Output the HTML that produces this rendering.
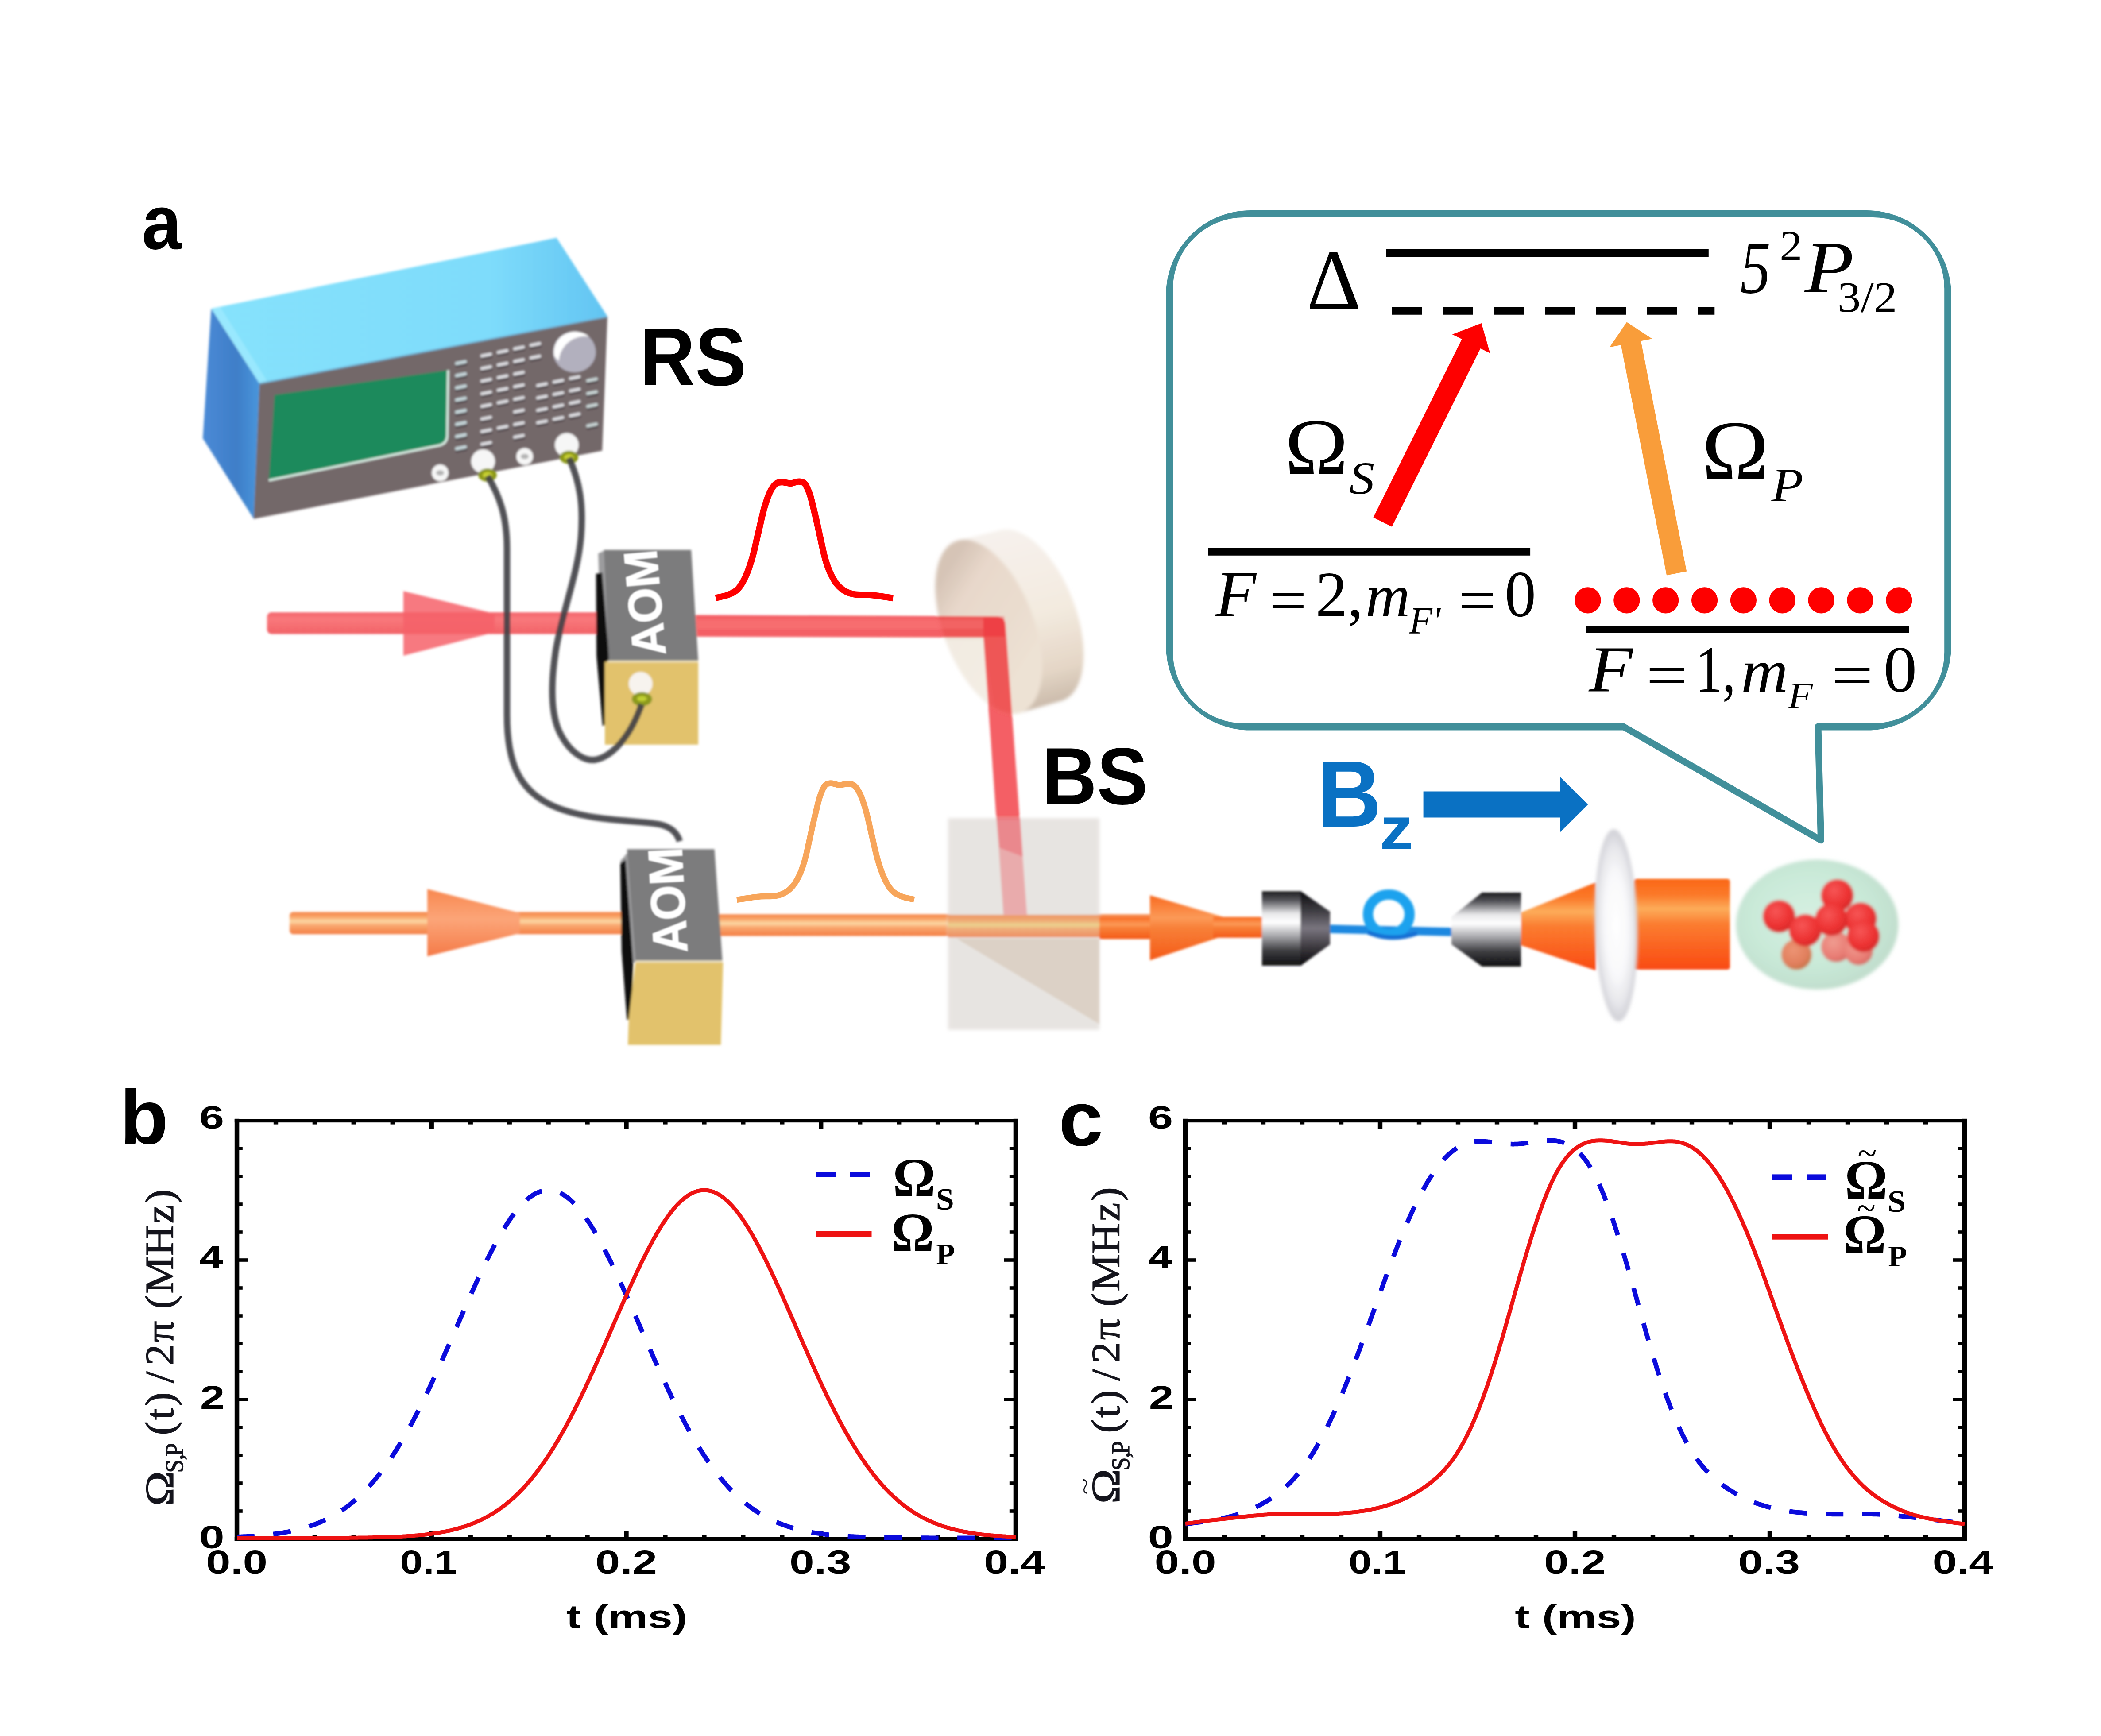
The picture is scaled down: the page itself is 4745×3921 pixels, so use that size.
<!DOCTYPE html>
<html lang="en"><head><meta charset="utf-8"><title>Figure</title>
<style>
html,body{margin:0;padding:0;background:#fff;}
body{width:4745px;height:3921px;overflow:hidden;}
svg{display:block;}
.sb{font-family:"Liberation Sans",sans-serif;font-weight:bold;}
.dj{font-family:"DejaVu Sans",sans-serif;font-weight:bold;}
.se{font-family:"Liberation Serif",serif;}
.si{font-family:"Liberation Serif",serif;font-style:italic;}
.seb{font-family:"Liberation Serif",serif;font-weight:bold;}
</style></head><body>
<svg width="4745" height="3921" viewBox="0 0 4745 3921">
<defs>
<filter id="bl1" x="-5%" y="-5%" width="110%" height="110%"><feGaussianBlur stdDeviation="2.4"/></filter>
<filter id="bl0" x="-5%" y="-5%" width="110%" height="110%"><feGaussianBlur stdDeviation="1.4"/></filter>
<filter id="bl2" x="-5%" y="-5%" width="110%" height="110%"><feGaussianBlur stdDeviation="3"/></filter>
<filter id="bl4" x="-10%" y="-10%" width="120%" height="120%"><feGaussianBlur stdDeviation="5"/></filter>
<linearGradient id="gRed" x1="0" y1="0" x2="0" y2="1">
 <stop offset="0" stop-color="#f2525a"/><stop offset="0.3" stop-color="#f96a6e"/><stop offset="0.55" stop-color="#f66266"/><stop offset="1" stop-color="#f05056"/>
</linearGradient>
<linearGradient id="gRedV" x1="0" y1="0" x2="1" y2="0">
 <stop offset="0" stop-color="#f0525a"/><stop offset="0.4" stop-color="#f8686e"/><stop offset="1" stop-color="#ee5058"/>
</linearGradient>
<linearGradient id="gOr" x1="0" y1="0" x2="0" y2="1">
 <stop offset="0" stop-color="#f58548"/><stop offset="0.22" stop-color="#f9a468"/><stop offset="0.42" stop-color="#fcd8a4"/><stop offset="0.6" stop-color="#f9a870"/><stop offset="1" stop-color="#f47e44"/>
</linearGradient>
<linearGradient id="gOrB" x1="0" y1="0" x2="0" y2="1">
 <stop offset="0" stop-color="#ee8a50"/><stop offset="0.25" stop-color="#f2a060"/><stop offset="0.45" stop-color="#ecd080"/><stop offset="0.62" stop-color="#f2a468"/><stop offset="1" stop-color="#ee7e4c"/>
</linearGradient>
<linearGradient id="gOrCone" x1="0" y1="0" x2="0" y2="1">
 <stop offset="0" stop-color="#f88850"/><stop offset="0.45" stop-color="#fba578"/><stop offset="1" stop-color="#f57a48"/>
</linearGradient>
<linearGradient id="gOr2" x1="0" y1="0" x2="0" y2="1">
 <stop offset="0" stop-color="#f86a20"/><stop offset="0.35" stop-color="#fc9a58"/><stop offset="0.5" stop-color="#f88038"/><stop offset="1" stop-color="#f45a18"/>
</linearGradient>
<linearGradient id="gOrCyl" x1="0" y1="0" x2="0" y2="1">
 <stop offset="0" stop-color="#fa6616"/><stop offset="0.18" stop-color="#fb7a2a"/><stop offset="0.33" stop-color="#fdac5a"/><stop offset="0.5" stop-color="#fb7c30"/><stop offset="1" stop-color="#f94a12"/>
</linearGradient>
<linearGradient id="gMetal" x1="0" y1="0" x2="0" y2="1">
 <stop offset="0" stop-color="#1a1a1c"/><stop offset="0.12" stop-color="#55555a"/><stop offset="0.3" stop-color="#e8e8ea"/><stop offset="0.42" stop-color="#ffffff"/><stop offset="0.6" stop-color="#a8a8ac"/><stop offset="0.8" stop-color="#3c3c40"/><stop offset="1" stop-color="#101012"/>
</linearGradient>
<linearGradient id="gMetalD" x1="0" y1="0" x2="0" y2="1">
 <stop offset="0" stop-color="#0c0c0e"/><stop offset="0.28" stop-color="#3a383e"/><stop offset="0.5" stop-color="#74707a"/><stop offset="0.75" stop-color="#3c383e"/><stop offset="1" stop-color="#0a0a0c"/>
</linearGradient>
<linearGradient id="gTop" x1="0" y1="0" x2="1" y2="0">
 <stop offset="0" stop-color="#86e2fc"/><stop offset="0.7" stop-color="#7edcfb"/><stop offset="1" stop-color="#62c4f2"/>
</linearGradient>
<linearGradient id="gLeft" x1="0" y1="0" x2="1" y2="0">
 <stop offset="0" stop-color="#4a8ad6"/><stop offset="0.6" stop-color="#3f7ec8"/><stop offset="1" stop-color="#4896dc"/>
</linearGradient>
<linearGradient id="gMirF" gradientUnits="userSpaceOnUse" x1="2110" y1="1330" x2="2340" y2="1480">
 <stop offset="0" stop-color="#d6c4b6"/><stop offset="0.25" stop-color="#e8d8cb"/><stop offset="0.7" stop-color="#eaddcf"/><stop offset="1" stop-color="#ede2d4"/>
</linearGradient>
<linearGradient id="gMirR" gradientUnits="userSpaceOnUse" x1="2290" y1="1200" x2="2400" y2="1620">
 <stop offset="0" stop-color="#f6f1ec"/><stop offset="0.45" stop-color="#f3eadf"/><stop offset="0.75" stop-color="#e4d6c6"/><stop offset="1" stop-color="#bfae9e"/>
</linearGradient>
<radialGradient id="gBall" cx="0.4" cy="0.35" r="0.7">
 <stop offset="0" stop-color="#f65656"/><stop offset="0.6" stop-color="#ee3434"/><stop offset="1" stop-color="#d42626"/>
</radialGradient>
<radialGradient id="gBallQ" cx="0.4" cy="0.35" r="0.7">
 <stop offset="0" stop-color="#f09c90"/><stop offset="0.7" stop-color="#e87c74"/><stop offset="1" stop-color="#d46860"/>
</radialGradient>
<radialGradient id="gBallP" cx="0.4" cy="0.35" r="0.7">
 <stop offset="0" stop-color="#ec9474"/><stop offset="0.7" stop-color="#e07e5c"/><stop offset="1" stop-color="#c07040"/>
</radialGradient>
<radialGradient id="gSph" cx="0.45" cy="0.45" r="0.6">
 <stop offset="0" stop-color="#d6f0e2"/><stop offset="0.6" stop-color="#c9e9d8"/><stop offset="1" stop-color="#bfdccb"/>
</radialGradient>
<radialGradient id="gLens" cx="0.5" cy="0.5" r="0.5">
 <stop offset="0" stop-color="#ffffff"/><stop offset="0.55" stop-color="#f8f8fa"/><stop offset="0.82" stop-color="#e6e6ea"/><stop offset="1" stop-color="#d0d0d6"/>
</radialGradient>
<radialGradient id="gKnob" cx="0.35" cy="0.3" r="0.8">
 <stop offset="0" stop-color="#ffffff"/><stop offset="0.35" stop-color="#c8c8d4"/><stop offset="1" stop-color="#a0a0b0"/>
</radialGradient>
</defs>
<rect x="0" y="0" width="4745" height="3921" fill="#ffffff"/>
<g id="illus" filter="url(#bl1)">
<polygon points="477.0,697.0 1257.0,537.0 1372.0,715.0 586.0,866.0" fill="url(#gTop)" />
<polygon points="477.0,697.0 586.0,866.0 573.0,1172.0 458.0,990.0" fill="url(#gLeft)" />
<polygon points="586.0,866.0 1372.0,715.0 1360.0,1018.0 573.0,1172.0" fill="#736769" />
<polygon points="477.0,697.0 497.0,693.0 604.0,862.0 586.0,866.0" fill="#9eeafe" opacity="0.8"/>
<line x1="586" y1="866" x2="1372" y2="715" stroke="#6fb8e0" stroke-width="5" opacity="0.6"/>
<path d="M620,892 L1012,836 L1010,985 Q1009,1002 992,1006 L607,1085 Z" fill="#1c8a5c"/>
<path d="M607,1085 L992,1006 Q1009,1002 1010,985 L1012,836" fill="none" stroke="#dcefe6" stroke-width="5"/>
<line x1="1032.5" y1="825.9" x2="1051.5" y2="822.1" stroke="#4e4448" stroke-width="8" stroke-linecap="round"/>
<line x1="1031.5" y1="820.9" x2="1050.5" y2="817.1" stroke="#c4d4d8" stroke-width="8" stroke-linecap="round"/>
<line x1="1032.5" y1="853.4" x2="1051.5" y2="849.6" stroke="#4e4448" stroke-width="8" stroke-linecap="round"/>
<line x1="1031.5" y1="848.4" x2="1050.5" y2="844.6" stroke="#c4d4d8" stroke-width="8" stroke-linecap="round"/>
<line x1="1032.5" y1="880.9" x2="1051.5" y2="877.1" stroke="#4e4448" stroke-width="8" stroke-linecap="round"/>
<line x1="1031.5" y1="875.9" x2="1050.5" y2="872.1" stroke="#c4d4d8" stroke-width="8" stroke-linecap="round"/>
<line x1="1032.5" y1="908.4" x2="1051.5" y2="904.6" stroke="#4e4448" stroke-width="8" stroke-linecap="round"/>
<line x1="1031.5" y1="903.4" x2="1050.5" y2="899.6" stroke="#c4d4d8" stroke-width="8" stroke-linecap="round"/>
<line x1="1032.5" y1="935.9" x2="1051.5" y2="932.1" stroke="#4e4448" stroke-width="8" stroke-linecap="round"/>
<line x1="1031.5" y1="930.9" x2="1050.5" y2="927.1" stroke="#c4d4d8" stroke-width="8" stroke-linecap="round"/>
<line x1="1032.5" y1="963.4" x2="1051.5" y2="959.6" stroke="#4e4448" stroke-width="8" stroke-linecap="round"/>
<line x1="1031.5" y1="958.4" x2="1050.5" y2="954.6" stroke="#c4d4d8" stroke-width="8" stroke-linecap="round"/>
<line x1="1032.5" y1="990.9" x2="1051.5" y2="987.1" stroke="#4e4448" stroke-width="8" stroke-linecap="round"/>
<line x1="1031.5" y1="985.9" x2="1050.5" y2="982.1" stroke="#c4d4d8" stroke-width="8" stroke-linecap="round"/>
<line x1="1032.5" y1="1018.4" x2="1051.5" y2="1014.6" stroke="#4e4448" stroke-width="8" stroke-linecap="round"/>
<line x1="1031.5" y1="1013.4" x2="1050.5" y2="1009.6" stroke="#c4d4d8" stroke-width="8" stroke-linecap="round"/>
<line x1="1089.5" y1="808.9" x2="1108.5" y2="805.1" stroke="#4e4448" stroke-width="7.5" stroke-linecap="round"/>
<line x1="1088.5" y1="803.9" x2="1107.5" y2="800.1" stroke="#dcdce0" stroke-width="7.5" stroke-linecap="round"/>
<line x1="1126.5" y1="800.9" x2="1145.5" y2="797.1" stroke="#4e4448" stroke-width="7.5" stroke-linecap="round"/>
<line x1="1125.5" y1="795.9" x2="1144.5" y2="792.1" stroke="#dcdce0" stroke-width="7.5" stroke-linecap="round"/>
<line x1="1163.5" y1="792.9" x2="1182.5" y2="789.1" stroke="#4e4448" stroke-width="7.5" stroke-linecap="round"/>
<line x1="1162.5" y1="787.9" x2="1181.5" y2="784.1" stroke="#dcdce0" stroke-width="7.5" stroke-linecap="round"/>
<line x1="1200.5" y1="784.9" x2="1219.5" y2="781.1" stroke="#4e4448" stroke-width="7.5" stroke-linecap="round"/>
<line x1="1199.5" y1="779.9" x2="1218.5" y2="776.1" stroke="#dcdce0" stroke-width="7.5" stroke-linecap="round"/>
<line x1="1089.5" y1="837.4" x2="1108.5" y2="833.6" stroke="#4e4448" stroke-width="7.5" stroke-linecap="round"/>
<line x1="1088.5" y1="832.4" x2="1107.5" y2="828.6" stroke="#dcdce0" stroke-width="7.5" stroke-linecap="round"/>
<line x1="1126.5" y1="829.4" x2="1145.5" y2="825.6" stroke="#4e4448" stroke-width="7.5" stroke-linecap="round"/>
<line x1="1125.5" y1="824.4" x2="1144.5" y2="820.6" stroke="#dcdce0" stroke-width="7.5" stroke-linecap="round"/>
<line x1="1163.5" y1="821.4" x2="1182.5" y2="817.6" stroke="#4e4448" stroke-width="7.5" stroke-linecap="round"/>
<line x1="1162.5" y1="816.4" x2="1181.5" y2="812.6" stroke="#dcdce0" stroke-width="7.5" stroke-linecap="round"/>
<line x1="1200.5" y1="813.4" x2="1219.5" y2="809.6" stroke="#4e4448" stroke-width="7.5" stroke-linecap="round"/>
<line x1="1199.5" y1="808.4" x2="1218.5" y2="804.6" stroke="#dcdce0" stroke-width="7.5" stroke-linecap="round"/>
<line x1="1089.5" y1="865.9" x2="1108.5" y2="862.1" stroke="#4e4448" stroke-width="7.5" stroke-linecap="round"/>
<line x1="1088.5" y1="860.9" x2="1107.5" y2="857.1" stroke="#dcdce0" stroke-width="7.5" stroke-linecap="round"/>
<line x1="1126.5" y1="857.9" x2="1145.5" y2="854.1" stroke="#4e4448" stroke-width="7.5" stroke-linecap="round"/>
<line x1="1125.5" y1="852.9" x2="1144.5" y2="849.1" stroke="#dcdce0" stroke-width="7.5" stroke-linecap="round"/>
<line x1="1163.5" y1="849.9" x2="1182.5" y2="846.1" stroke="#4e4448" stroke-width="7.5" stroke-linecap="round"/>
<line x1="1162.5" y1="844.9" x2="1181.5" y2="841.1" stroke="#dcdce0" stroke-width="7.5" stroke-linecap="round"/>
<line x1="1089.5" y1="894.4" x2="1108.5" y2="890.6" stroke="#4e4448" stroke-width="7.5" stroke-linecap="round"/>
<line x1="1088.5" y1="889.4" x2="1107.5" y2="885.6" stroke="#dcdce0" stroke-width="7.5" stroke-linecap="round"/>
<line x1="1126.5" y1="886.4" x2="1145.5" y2="882.6" stroke="#4e4448" stroke-width="7.5" stroke-linecap="round"/>
<line x1="1125.5" y1="881.4" x2="1144.5" y2="877.6" stroke="#dcdce0" stroke-width="7.5" stroke-linecap="round"/>
<line x1="1163.5" y1="878.4" x2="1182.5" y2="874.6" stroke="#4e4448" stroke-width="7.5" stroke-linecap="round"/>
<line x1="1162.5" y1="873.4" x2="1181.5" y2="869.6" stroke="#dcdce0" stroke-width="7.5" stroke-linecap="round"/>
<line x1="1089.5" y1="922.9" x2="1108.5" y2="919.1" stroke="#4e4448" stroke-width="7.5" stroke-linecap="round"/>
<line x1="1088.5" y1="917.9" x2="1107.5" y2="914.1" stroke="#dcdce0" stroke-width="7.5" stroke-linecap="round"/>
<line x1="1126.5" y1="914.9" x2="1145.5" y2="911.1" stroke="#4e4448" stroke-width="7.5" stroke-linecap="round"/>
<line x1="1125.5" y1="909.9" x2="1144.5" y2="906.1" stroke="#dcdce0" stroke-width="7.5" stroke-linecap="round"/>
<line x1="1163.5" y1="906.9" x2="1182.5" y2="903.1" stroke="#4e4448" stroke-width="7.5" stroke-linecap="round"/>
<line x1="1162.5" y1="901.9" x2="1181.5" y2="898.1" stroke="#dcdce0" stroke-width="7.5" stroke-linecap="round"/>
<line x1="1089.5" y1="951.4" x2="1108.5" y2="947.6" stroke="#4e4448" stroke-width="7.5" stroke-linecap="round"/>
<line x1="1088.5" y1="946.4" x2="1107.5" y2="942.6" stroke="#dcdce0" stroke-width="7.5" stroke-linecap="round"/>
<line x1="1163.5" y1="935.4" x2="1182.5" y2="931.6" stroke="#4e4448" stroke-width="7.5" stroke-linecap="round"/>
<line x1="1162.5" y1="930.4" x2="1181.5" y2="926.6" stroke="#dcdce0" stroke-width="7.5" stroke-linecap="round"/>
<line x1="1089.5" y1="979.9" x2="1108.5" y2="976.1" stroke="#4e4448" stroke-width="7.5" stroke-linecap="round"/>
<line x1="1088.5" y1="974.9" x2="1107.5" y2="971.1" stroke="#dcdce0" stroke-width="7.5" stroke-linecap="round"/>
<line x1="1126.5" y1="971.9" x2="1145.5" y2="968.1" stroke="#4e4448" stroke-width="7.5" stroke-linecap="round"/>
<line x1="1125.5" y1="966.9" x2="1144.5" y2="963.1" stroke="#dcdce0" stroke-width="7.5" stroke-linecap="round"/>
<line x1="1163.5" y1="963.9" x2="1182.5" y2="960.1" stroke="#4e4448" stroke-width="7.5" stroke-linecap="round"/>
<line x1="1162.5" y1="958.9" x2="1181.5" y2="955.1" stroke="#dcdce0" stroke-width="7.5" stroke-linecap="round"/>
<line x1="1089.5" y1="1008.4" x2="1108.5" y2="1004.6" stroke="#4e4448" stroke-width="7.5" stroke-linecap="round"/>
<line x1="1088.5" y1="1003.4" x2="1107.5" y2="999.6" stroke="#dcdce0" stroke-width="7.5" stroke-linecap="round"/>
<line x1="1163.5" y1="992.4" x2="1182.5" y2="988.6" stroke="#4e4448" stroke-width="7.5" stroke-linecap="round"/>
<line x1="1162.5" y1="987.4" x2="1181.5" y2="983.6" stroke="#dcdce0" stroke-width="7.5" stroke-linecap="round"/>
<line x1="1215.5" y1="875.9" x2="1234.5" y2="872.1" stroke="#4e4448" stroke-width="7.5" stroke-linecap="round"/>
<line x1="1214.5" y1="870.9" x2="1233.5" y2="867.1" stroke="#dcdce0" stroke-width="7.5" stroke-linecap="round"/>
<line x1="1252.5" y1="867.9" x2="1271.5" y2="864.1" stroke="#4e4448" stroke-width="7.5" stroke-linecap="round"/>
<line x1="1251.5" y1="862.9" x2="1270.5" y2="859.1" stroke="#dcdce0" stroke-width="7.5" stroke-linecap="round"/>
<line x1="1289.5" y1="859.9" x2="1308.5" y2="856.1" stroke="#4e4448" stroke-width="7.5" stroke-linecap="round"/>
<line x1="1288.5" y1="854.9" x2="1307.5" y2="851.1" stroke="#dcdce0" stroke-width="7.5" stroke-linecap="round"/>
<line x1="1215.5" y1="903.9" x2="1234.5" y2="900.1" stroke="#4e4448" stroke-width="7.5" stroke-linecap="round"/>
<line x1="1214.5" y1="898.9" x2="1233.5" y2="895.1" stroke="#dcdce0" stroke-width="7.5" stroke-linecap="round"/>
<line x1="1252.5" y1="895.9" x2="1271.5" y2="892.1" stroke="#4e4448" stroke-width="7.5" stroke-linecap="round"/>
<line x1="1251.5" y1="890.9" x2="1270.5" y2="887.1" stroke="#dcdce0" stroke-width="7.5" stroke-linecap="round"/>
<line x1="1289.5" y1="887.9" x2="1308.5" y2="884.1" stroke="#4e4448" stroke-width="7.5" stroke-linecap="round"/>
<line x1="1288.5" y1="882.9" x2="1307.5" y2="879.1" stroke="#dcdce0" stroke-width="7.5" stroke-linecap="round"/>
<line x1="1215.5" y1="931.9" x2="1234.5" y2="928.1" stroke="#4e4448" stroke-width="7.5" stroke-linecap="round"/>
<line x1="1214.5" y1="926.9" x2="1233.5" y2="923.1" stroke="#dcdce0" stroke-width="7.5" stroke-linecap="round"/>
<line x1="1252.5" y1="923.9" x2="1271.5" y2="920.1" stroke="#4e4448" stroke-width="7.5" stroke-linecap="round"/>
<line x1="1251.5" y1="918.9" x2="1270.5" y2="915.1" stroke="#dcdce0" stroke-width="7.5" stroke-linecap="round"/>
<line x1="1289.5" y1="915.9" x2="1308.5" y2="912.1" stroke="#4e4448" stroke-width="7.5" stroke-linecap="round"/>
<line x1="1288.5" y1="910.9" x2="1307.5" y2="907.1" stroke="#dcdce0" stroke-width="7.5" stroke-linecap="round"/>
<line x1="1215.5" y1="959.9" x2="1234.5" y2="956.1" stroke="#4e4448" stroke-width="7.5" stroke-linecap="round"/>
<line x1="1214.5" y1="954.9" x2="1233.5" y2="951.1" stroke="#dcdce0" stroke-width="7.5" stroke-linecap="round"/>
<line x1="1252.5" y1="951.9" x2="1271.5" y2="948.1" stroke="#4e4448" stroke-width="7.5" stroke-linecap="round"/>
<line x1="1251.5" y1="946.9" x2="1270.5" y2="943.1" stroke="#dcdce0" stroke-width="7.5" stroke-linecap="round"/>
<line x1="1289.5" y1="943.9" x2="1308.5" y2="940.1" stroke="#4e4448" stroke-width="7.5" stroke-linecap="round"/>
<line x1="1288.5" y1="938.9" x2="1307.5" y2="935.1" stroke="#dcdce0" stroke-width="7.5" stroke-linecap="round"/>
<line x1="1328.5" y1="864.9" x2="1347.5" y2="861.1" stroke="#4e4448" stroke-width="7.5" stroke-linecap="round"/>
<line x1="1327.5" y1="859.9" x2="1346.5" y2="856.1" stroke="#c8d4d4" stroke-width="7.5" stroke-linecap="round"/>
<line x1="1328.5" y1="893.9" x2="1347.5" y2="890.1" stroke="#4e4448" stroke-width="7.5" stroke-linecap="round"/>
<line x1="1327.5" y1="888.9" x2="1346.5" y2="885.1" stroke="#c8d4d4" stroke-width="7.5" stroke-linecap="round"/>
<line x1="1328.5" y1="922.9" x2="1347.5" y2="919.1" stroke="#4e4448" stroke-width="7.5" stroke-linecap="round"/>
<line x1="1327.5" y1="917.9" x2="1346.5" y2="914.1" stroke="#c8d4d4" stroke-width="7.5" stroke-linecap="round"/>
<line x1="1328.5" y1="966.9" x2="1347.5" y2="963.1" stroke="#4e4448" stroke-width="7.5" stroke-linecap="round"/>
<line x1="1327.5" y1="961.9" x2="1346.5" y2="958.1" stroke="#c8d4d4" stroke-width="7.5" stroke-linecap="round"/>
<ellipse cx="1297.5" cy="795" rx="48" ry="46" fill="#b2b0be"/>
<path d="M1252,805 A48,46 0 0 1 1330,760 A60,60 0 0 0 1262,815 Z" fill="#ffffff"/>
<circle cx="994" cy="1068" r="19" fill="#f6f6f6"/>
<circle cx="1091" cy="1042" r="27" fill="#f6f6f6"/>
<circle cx="1185" cy="1031" r="19" fill="#f6f6f6"/>
<circle cx="1280" cy="1005" r="27" fill="#f6f6f6"/>
<ellipse cx="994" cy="1068" rx="9" ry="6" fill="#b4b4b4"/>
<ellipse cx="1185" cy="1031" rx="9" ry="6" fill="#b4b4b4"/>
<ellipse cx="1101" cy="1073" rx="21" ry="15" fill="#8c9818"/>
<ellipse cx="1101" cy="1073" rx="11" ry="7" fill="#c8d030"/>
<ellipse cx="1285" cy="1033" rx="21" ry="15" fill="#8c9818"/>
<ellipse cx="1285" cy="1033" rx="11" ry="7" fill="#c8d030"/>
<g filter="url(#bl2)">
<polygon points="2397.1,1583.1 2303.8,1610.0 2296.8,1611.6 2289.5,1612.3 2281.9,1612.0 2274.1,1610.7 2266.1,1608.5 2257.9,1605.3 2249.6,1601.2 2241.3,1596.3 2232.8,1590.4 2224.4,1583.7 2216.0,1576.1 2207.7,1567.8 2199.6,1558.8 2191.6,1549.0 2183.7,1538.6 2176.2,1527.6 2168.9,1516.0 2161.9,1504.0 2155.3,1491.5 2149.0,1478.7 2143.2,1465.5 2137.8,1452.2 2132.8,1438.6 2128.4,1424.9 2124.4,1411.2 2121.0,1397.5 2118.1,1383.9 2115.8,1370.4 2114.1,1357.1 2112.9,1344.2 2112.4,1331.6 2112.4,1319.4 2113.0,1307.7 2114.2,1296.4 2115.9,1285.8 2118.3,1275.8 2121.1,1266.5 2124.6,1257.9 2128.5,1250.1 2133.0,1243.1 2138.0,1236.9 2143.4,1231.6 2149.3,1227.2 2155.5,1223.7 2162.2,1221.2 2256.9,1198.1 2263.9,1196.5 2271.2,1195.8 2278.8,1196.1 2286.6,1197.3 2294.6,1199.5 2302.7,1202.6 2311.0,1206.6 2319.4,1211.5 2327.8,1217.3 2336.1,1224.0 2344.5,1231.4 2352.7,1239.6 2360.9,1248.6 2368.8,1258.2 2376.6,1268.5 2384.1,1279.4 2391.4,1290.8 2398.3,1302.7 2404.9,1315.1 2411.1,1327.8 2416.9,1340.8 2422.2,1354.0 2427.1,1367.5 2431.5,1381.0 2435.4,1394.6 2438.8,1408.2 2441.6,1421.7 2443.9,1435.0 2445.6,1448.1 2446.7,1461.0 2447.2,1473.5 2447.2,1485.6 2446.5,1497.2 2445.3,1508.3 2443.5,1518.9 2441.1,1528.8 2438.2,1538.0 2434.8,1546.5 2430.8,1554.3 2426.3,1561.3 2421.3,1567.4 2415.9,1572.7 2410.0,1577.0 2403.7,1580.5" fill="url(#gMirR)"/>
<polygon points="2328.2,1379.0 2333.2,1392.6 2337.6,1406.3 2341.6,1420.0 2345.0,1433.7 2347.9,1447.3 2350.2,1460.8 2351.9,1474.1 2353.1,1487.0 2353.6,1499.6 2353.6,1511.8 2353.0,1523.5 2351.8,1534.8 2350.1,1545.4 2347.7,1555.4 2344.9,1564.7 2341.4,1573.3 2337.5,1581.1 2333.0,1588.1 2328.0,1594.3 2322.6,1599.6 2316.7,1604.0 2310.5,1607.5 2303.8,1610.0 2296.8,1611.6 2289.5,1612.3 2281.9,1612.0 2274.1,1610.7 2266.1,1608.5 2257.9,1605.3 2249.6,1601.2 2241.3,1596.3 2232.8,1590.4 2224.4,1583.7 2216.0,1576.1 2207.7,1567.8 2199.6,1558.8 2191.6,1549.0 2183.7,1538.6 2176.2,1527.6 2168.9,1516.0 2161.9,1504.0 2155.3,1491.5 2149.0,1478.7 2143.2,1465.5 2137.8,1452.2 2132.8,1438.6 2128.4,1424.9 2124.4,1411.2 2121.0,1397.5 2118.1,1383.9 2115.8,1370.4 2114.1,1357.1 2112.9,1344.2 2112.4,1331.6 2112.4,1319.4 2113.0,1307.7 2114.2,1296.4 2115.9,1285.8 2118.3,1275.8 2121.1,1266.5 2124.6,1257.9 2128.5,1250.1 2133.0,1243.1 2138.0,1236.9 2143.4,1231.6 2149.3,1227.2 2155.5,1223.7 2162.2,1221.2 2169.2,1219.6 2176.5,1218.9 2184.1,1219.2 2191.9,1220.5 2199.9,1222.7 2208.1,1225.9 2216.4,1230.0 2224.7,1234.9 2233.2,1240.8 2241.6,1247.5 2250.0,1255.1 2258.3,1263.4 2266.4,1272.4 2274.4,1282.2 2282.3,1292.6 2289.8,1303.6 2297.1,1315.2 2304.1,1327.2 2310.7,1339.7 2317.0,1352.5 2322.8,1365.7" fill="url(#gMirF)"/>
<clipPath id="cmf"><polygon points="2328.2,1379.0 2333.2,1392.6 2337.6,1406.3 2341.6,1420.0 2345.0,1433.7 2347.9,1447.3 2350.2,1460.8 2351.9,1474.1 2353.1,1487.0 2353.6,1499.6 2353.6,1511.8 2353.0,1523.5 2351.8,1534.8 2350.1,1545.4 2347.7,1555.4 2344.9,1564.7 2341.4,1573.3 2337.5,1581.1 2333.0,1588.1 2328.0,1594.3 2322.6,1599.6 2316.7,1604.0 2310.5,1607.5 2303.8,1610.0 2296.8,1611.6 2289.5,1612.3 2281.9,1612.0 2274.1,1610.7 2266.1,1608.5 2257.9,1605.3 2249.6,1601.2 2241.3,1596.3 2232.8,1590.4 2224.4,1583.7 2216.0,1576.1 2207.7,1567.8 2199.6,1558.8 2191.6,1549.0 2183.7,1538.6 2176.2,1527.6 2168.9,1516.0 2161.9,1504.0 2155.3,1491.5 2149.0,1478.7 2143.2,1465.5 2137.8,1452.2 2132.8,1438.6 2128.4,1424.9 2124.4,1411.2 2121.0,1397.5 2118.1,1383.9 2115.8,1370.4 2114.1,1357.1 2112.9,1344.2 2112.4,1331.6 2112.4,1319.4 2113.0,1307.7 2114.2,1296.4 2115.9,1285.8 2118.3,1275.8 2121.1,1266.5 2124.6,1257.9 2128.5,1250.1 2133.0,1243.1 2138.0,1236.9 2143.4,1231.6 2149.3,1227.2 2155.5,1223.7 2162.2,1221.2 2169.2,1219.6 2176.5,1218.9 2184.1,1219.2 2191.9,1220.5 2199.9,1222.7 2208.1,1225.9 2216.4,1230.0 2224.7,1234.9 2233.2,1240.8 2241.6,1247.5 2250.0,1255.1 2258.3,1263.4 2266.4,1272.4 2274.4,1282.2 2282.3,1292.6 2289.8,1303.6 2297.1,1315.2 2304.1,1327.2 2310.7,1339.7 2317.0,1352.5 2322.8,1365.7"/></clipPath>
<polygon points="2100,1442 2222,1442 2250,1640 2100,1640" fill="#f8f6f0" opacity="0.6" clip-path="url(#cmf)"/>
</g>
<rect x="603" y="1383" width="760" height="49" rx="10" fill="url(#gRed)" opacity="0.9"/>
<polygon points="911.0,1335.0 1117.0,1386.0 1117.0,1428.0 911.0,1481.0" fill="#f6626a" opacity="0.85"/>
<path d="M1570,1389 L2250,1392 Q2270,1393 2271,1412 L2322,2112 L2269,2112 L2221,1440 L1570,1438 Z" fill="#f01c22" opacity="0.7"/>
<rect x="1570" y="1400" width="650" height="20" fill="#ff9090" opacity="0.25"/>
<polygon points="2221.0,1392.0 2268.0,1392.0 2270.0,1438.0 2221.0,1438.0" fill="#f01020" opacity="0.3"/>
<rect x="654" y="2060" width="770" height="50" rx="8" fill="url(#gOr)"/>
<polygon points="965.0,2008.0 1174.0,2062.0 1174.0,2108.0 965.0,2160.0" fill="url(#gOrCone)" />
<rect x="1620" y="2065" width="1000" height="49" fill="url(#gOr)"/>
<rect x="2141" y="1848" width="342" height="478" fill="#e2deda" opacity="0.8" filter="url(#bl2)"/>
<polygon points="2160.6,2120.0 2483.0,2120.0 2483.0,2313.0" fill="#d6c6b6" opacity="0.62"/>
<polygon points="2251.0,1848.0 2304.0,1848.0 2310.0,1935.0 2257.0,1915.0" fill="#f04050" opacity="0.45"/>
<polygon points="2257.0,1915.0 2310.0,1935.0 2320.0,2068.0 2267.0,2068.0" fill="#f47078" opacity="0.28"/>
<rect x="2141" y="2067" width="342" height="50" fill="url(#gOrB)" opacity="0.8"/>
<rect x="2483" y="2071" width="120" height="50" fill="url(#gOr2)"/>
<polygon points="1351.0,1250.0 1366.0,1243.0 1377.0,1495.0 1366.0,1500.0 1358.0,1470.0" fill="#9c9c9e" />
<polygon points="1346.0,1296.0 1360.0,1293.0 1377.0,1500.0 1372.0,1634.0 1361.0,1640.0 1347.0,1480.0" fill="#0a0a0a" />
<polygon points="1364.0,1242.0 1561.0,1242.0 1577.0,1492.0 1375.0,1492.0" fill="#7b7b7d" />
<polygon points="1366.0,1495.0 1577.0,1495.0 1577.0,1682.0 1366.0,1682.0" fill="#e2c26c" />
<line x1="1372" y1="1494" x2="1577" y2="1494" stroke="#efe3c0" stroke-width="4"/>
<circle cx="1446.8" cy="1544.4" r="27" fill="#f7f3ee"/>
<ellipse cx="1449.7" cy="1579" rx="23" ry="16" fill="#8c9a1a"/>
<ellipse cx="1449.7" cy="1578" rx="11" ry="6" fill="#c0d030"/>
<polygon points="1401.0,1945.0 1418.0,1925.0 1436.0,2172.0 1420.0,2180.0 1408.0,2150.0" fill="#9c9c9e" />
<polygon points="1401.0,1950.0 1413.0,1942.0 1430.0,2175.0 1426.0,2300.0 1416.0,2304.0 1404.0,2150.0" fill="#0a0a0a" />
<polygon points="1416.0,1918.0 1613.6,1918.0 1631.5,2169.5 1435.4,2169.5" fill="#7b7b7d" />
<polygon points="1435.0,2174.0 1633.0,2174.0 1628.0,2360.0 1418.0,2360.0 1420.0,2300.0" fill="#e2c26c" />
<line x1="1436" y1="2172" x2="1632" y2="2172" stroke="#efe3c0" stroke-width="4"/>
<path d="M1101,1075 C1128,1120 1145,1165 1145,1240 L1145,1614 C1145,1720 1170,1790 1260,1825 C1340,1856 1440,1852 1490,1862 C1515,1868 1529,1880 1535,1900" fill="none" stroke="#424246" stroke-width="14.5" opacity="0.92"/>
<path d="M1285,1034 C1310,1090 1318,1140 1312,1214 C1304,1300 1270,1380 1255,1470 C1243,1550 1245,1610 1262,1650 C1285,1700 1320,1720 1345,1716 C1385,1708 1425,1660 1449,1591" fill="none" stroke="#424246" stroke-width="14.5" opacity="0.92"/>
</g>
<g filter="url(#bl0)">
<text transform="translate(1503.7,1478.0) rotate(-95.2) scale(0.9644,1)" font-size="106.7" style="font-family:'Liberation Sans',sans-serif;font-weight:bold;font-kerning:none" fill="#ffffff" stroke="#ffffff" stroke-width="1.8">AOM</text>
<text transform="translate(1552.0,2150.5) rotate(-93.0) scale(0.9386,1)" font-size="108.9" style="font-family:'Liberation Sans',sans-serif;font-weight:bold;font-kerning:none" fill="#ffffff" stroke="#ffffff" stroke-width="1.8">AOM</text>
</g>
<g filter="url(#bl1)">
<polygon points="2597.0,2022.0 2766.0,2072.0 2766.0,2113.0 2597.0,2169.0" fill="url(#gOr2)" />
<rect x="2740" y="2071" width="112" height="47" fill="url(#gOr2)"/>
<path d="M3000,2098 L3284,2105" fill="none" stroke="#1a88e0" stroke-width="19"/>
<ellipse cx="3136.5" cy="2065" rx="47" ry="44.5" fill="none" stroke="#1aa2ee" stroke-width="23"/>
<path d="M3090,2106 Q3142,2128 3200,2108" fill="none" stroke="#1670d4" stroke-width="10"/>
<path d="M2850,2013 L2938,2013 L3004,2059 L3004,2133 L2938,2181 L2850,2181 Z" fill="url(#gMetal)"/>
<path d="M2937,2013 L3004,2059 L3004,2133 L2937,2181 Z" fill="url(#gMetalD)" opacity="0.95"/>
<path d="M3435,2016 L3347,2016 L3278,2071 L3278,2133 L3347,2183 L3435,2183 Z" fill="url(#gMetal)"/>
<polygon points="3435.0,2061.0 3604.0,1993.0 3604.0,2192.0 3435.0,2135.0" fill="url(#gOrCyl)" />
<rect x="3690" y="1985" width="217" height="205" rx="6" fill="url(#gOrCyl)"/>
<ellipse cx="3650" cy="2090" rx="48" ry="217" fill="url(#gLens)" filter="url(#bl2)" transform="rotate(-1.5 3650 2090)"/>
<ellipse cx="4104" cy="2088.3" rx="183.4" ry="146.7" fill="url(#gSph)" filter="url(#bl2)"/>
<g filter="url(#bl1)">
<circle cx="4057.3" cy="2156.0" r="34.0" fill="url(#gBallP)"/>
<circle cx="4147.0" cy="2138.6" r="34.0" fill="url(#gBallQ)"/>
<circle cx="4197.5" cy="2147.4" r="32.0" fill="url(#gBallQ)"/>
<circle cx="4149.3" cy="2022.6" r="36.0" fill="url(#gBall)"/>
<circle cx="4017.9" cy="2069.7" r="36.0" fill="url(#gBall)"/>
<circle cx="4201.8" cy="2075.0" r="36.0" fill="url(#gBall)"/>
<circle cx="4208.4" cy="2114.6" r="36.0" fill="url(#gBall)"/>
<circle cx="4077.0" cy="2101.4" r="36.0" fill="url(#gBall)"/>
<circle cx="4136.2" cy="2077.3" r="36.5" fill="url(#gBall)"/>
</g>
</g>
<path d="M1616.3,1350.6 C1621.0,1349.4 1636.3,1346.8 1644.7,1343.4 C1653.1,1340.0 1660.0,1337.1 1666.6,1330.2 C1673.2,1323.3 1678.6,1313.8 1684.1,1301.8 C1689.6,1289.8 1694.8,1274.4 1699.5,1258.0 C1704.2,1241.6 1708.2,1221.5 1712.6,1203.3 C1717.0,1185.0 1721.3,1163.8 1725.7,1148.5 C1730.1,1133.2 1734.5,1120.6 1738.9,1111.3 C1743.3,1102.0 1747.6,1096.4 1752.0,1092.7 C1756.4,1089.0 1761.2,1089.4 1765.2,1089.0 C1769.2,1088.6 1772.6,1090.0 1776.1,1090.5 C1779.6,1091.0 1782.7,1092.2 1786.0,1092.0 C1789.3,1091.8 1792.5,1090.1 1795.8,1089.4 C1799.1,1088.7 1802.0,1087.2 1805.7,1087.7 C1809.4,1088.2 1813.9,1088.0 1817.7,1092.7 C1821.5,1097.4 1825.3,1106.4 1828.6,1115.7 C1831.9,1125.0 1834.5,1136.8 1837.4,1148.5 C1840.3,1160.2 1843.3,1172.9 1846.2,1185.7 C1849.1,1198.5 1852.0,1212.4 1854.9,1225.2 C1857.8,1238.0 1860.4,1251.1 1863.7,1262.4 C1867.0,1273.7 1870.2,1283.5 1874.6,1293.0 C1879.0,1302.5 1884.5,1312.4 1890.0,1319.3 C1895.5,1326.2 1900.9,1330.8 1907.5,1334.6 C1914.1,1338.4 1920.3,1340.8 1929.4,1342.3 C1938.5,1343.8 1953.1,1342.8 1962.2,1343.4 C1971.3,1344.0 1975.0,1344.7 1984.1,1346.0 C1993.2,1347.3 2011.4,1350.2 2016.9,1351.0" fill="none" stroke="#fe0000" stroke-width="14.5" stroke-linejoin="round"/>
<path d="M1664.1,2032.3 C1669.6,2031.5 1687.8,2028.6 1696.9,2027.3 C1706.0,2026.0 1709.7,2025.3 1718.8,2024.7 C1727.9,2024.1 1742.5,2025.1 1751.6,2023.6 C1760.7,2022.1 1766.9,2019.7 1773.5,2015.9 C1780.1,2012.1 1785.5,2007.5 1791.0,2000.6 C1796.5,1993.7 1802.0,1983.8 1806.4,1974.3 C1810.8,1964.8 1814.0,1955.0 1817.3,1943.7 C1820.6,1932.4 1823.2,1919.3 1826.1,1906.5 C1829.0,1893.7 1831.9,1879.8 1834.8,1867.0 C1837.7,1854.2 1840.7,1841.5 1843.6,1829.8 C1846.5,1818.1 1849.1,1806.3 1852.4,1797.0 C1855.7,1787.7 1859.5,1778.7 1863.3,1774.0 C1867.1,1769.3 1871.6,1769.5 1875.3,1769.0 C1878.9,1768.5 1881.9,1770.0 1885.2,1770.7 C1888.5,1771.4 1891.7,1773.1 1895.0,1773.3 C1898.3,1773.5 1901.4,1772.3 1904.9,1771.8 C1908.4,1771.3 1911.8,1769.9 1915.8,1770.3 C1919.8,1770.7 1924.6,1770.3 1929.0,1774.0 C1933.4,1777.7 1937.7,1783.3 1942.1,1792.6 C1946.5,1801.9 1950.9,1814.5 1955.3,1829.8 C1959.7,1845.1 1964.0,1866.3 1968.4,1884.6 C1972.8,1902.8 1976.7,1922.9 1981.5,1939.3 C1986.2,1955.7 1991.4,1971.1 1996.9,1983.1 C2002.4,1995.1 2007.8,2004.6 2014.4,2011.5 C2021.0,2018.4 2027.9,2021.3 2036.3,2024.7 C2044.7,2028.1 2060.0,2030.7 2064.7,2031.9" fill="none" stroke="#f7a55a" stroke-width="13.5" stroke-linejoin="round"/>
<text transform="translate(320.27,561.69) scale(0.9214,1)" font-size="175.05" style="font-family:'Liberation Sans',sans-serif;font-weight:bold;font-kerning:none" fill="#000" >a</text>
<text transform="translate(1444.81,870.49) scale(0.9374,1)" font-size="184.88" style="font-family:'Liberation Sans',sans-serif;font-weight:bold;font-kerning:none" fill="#000" >RS</text>
<text transform="translate(2352.43,1815.62) scale(0.9498,1)" font-size="182.06" style="font-family:'Liberation Sans',sans-serif;font-weight:bold;font-kerning:none" fill="#000" >BS</text>
<text transform="translate(2974.73,1867.40) scale(0.9398,1)" font-size="214.25" style="font-family:'Liberation Sans',sans-serif;font-weight:bold;font-kerning:none" fill="#0a71c3" >B</text>
<text transform="translate(3115.95,1918.40) scale(1.1080,1)" font-size="136.28" style="font-family:'Liberation Sans',sans-serif;font-weight:bold;font-kerning:none" fill="#0a71c3" >z</text>
<polygon points="3214.6,1787.4 3523.6,1787.4 3523.6,1755.0 3586.4,1817.0 3523.6,1879.6 3523.6,1846.4 3214.6,1846.4" fill="#0a71c3" />
<path d="M2824.2,475.0 L4216.0,475.0 A191.0,191.0 0 0 1 4407.0,666.0 L4407.0,1458.6 A191.0,191.0 0 0 1 4216.0,1649.6 L2824.2,1649.6 A191.0,191.0 0 0 1 2633.2,1458.6 L2633.2,666.0 A191.0,191.0 0 0 1 2824.2,475.0 Z" fill="#ffffff"/>
<path d="M2824.2,475.0 L4216.0,475.0 A191.0,191.0 0 0 1 4407.0,666.0 L4407.0,1458.6 A191.0,191.0 0 0 1 4216.0,1649.6 L2824.2,1649.6 A191.0,191.0 0 0 1 2633.2,1458.6 L2633.2,666.0 A191.0,191.0 0 0 1 2824.2,475.0 Z M2810.0,491.0 L4230.2,491.0 A161.0,161.0 0 0 1 4391.2,652.0 L4391.2,1472.8 A161.0,161.0 0 0 1 4230.2,1633.8 L2810.0,1633.8 A161.0,161.0 0 0 1 2649.0,1472.8 L2649.0,652.0 A161.0,161.0 0 0 1 2810.0,491.0 Z" fill="#418f9a" fill-rule="evenodd"/>
<polygon points="3668,1628 4106,1628 4106,1641 4112.5,1897.8 3666.5,1641" fill="#ffffff"/>
<polyline points="3666.5,1641.2 4112.5,1897.8 4106,1641.2" fill="none" stroke="#418f9a" stroke-width="15" stroke-linejoin="round" stroke-linecap="round"/>
<line x1="3130.8" y1="571.2" x2="3858.8" y2="571.2" stroke="#000" stroke-width="17.5"/>
<line x1="3143.7" y1="702" x2="3872.3" y2="702" stroke="#000" stroke-width="17.5" stroke-dasharray="67.5 47.7"/>
<line x1="2728.4" y1="1246.1" x2="3456.1" y2="1246.1" stroke="#000" stroke-width="17.5"/>
<line x1="3582.5" y1="1421.8" x2="4311.1" y2="1421.8" stroke="#000" stroke-width="16.5"/>
<circle cx="3586.0" cy="1355.8" r="29.6" fill="#fe0000"/>
<circle cx="3673.8" cy="1355.8" r="29.6" fill="#fe0000"/>
<circle cx="3761.7" cy="1355.8" r="29.6" fill="#fe0000"/>
<circle cx="3849.6" cy="1355.8" r="29.6" fill="#fe0000"/>
<circle cx="3937.4" cy="1355.8" r="29.6" fill="#fe0000"/>
<circle cx="4025.2" cy="1355.8" r="29.6" fill="#fe0000"/>
<circle cx="4113.1" cy="1355.8" r="29.6" fill="#fe0000"/>
<circle cx="4200.9" cy="1355.8" r="29.6" fill="#fe0000"/>
<circle cx="4288.8" cy="1355.8" r="29.6" fill="#fe0000"/>
<polygon points="3143.5,1189.7 3343.6,786.9 3365.3,797.7 3345.7,729.9 3279.8,755.2 3301.5,766.0 3101.5,1168.7" fill="#fe0000"/>
<polygon points="3809.2,1290.4 3705.9,770.3 3731.4,765.2 3673.9,727.4 3635.2,784.3 3660.7,779.3 3764.0,1299.4" fill="#f99d3a"/>
<text transform="translate(2951.05,697.40) scale(0.9863,1)" font-size="192.98" style="font-family:'Liberation Serif',serif;font-kerning:none" fill="#000" >Δ</text>
<text transform="translate(3930.15,660.75) scale(0.8129,1)" font-size="169.14" style="font-family:'Liberation Serif',serif;font-style:italic;font-kerning:none" fill="#000" >5</text>
<text transform="translate(4019.21,587.40) scale(1.0681,1)" font-size="95.75" style="font-family:'Liberation Serif',serif;font-kerning:none" fill="#000" >2</text>
<text transform="translate(4075.68,660.00) scale(1.0981,1)" font-size="165.70" style="font-family:'Liberation Serif',serif;font-style:italic;font-kerning:none" fill="#000" >P</text>
<text transform="translate(4149.65,704.04) scale(1.0736,1)" font-size="98.23" style="font-family:'Liberation Serif',serif;font-kerning:none" fill="#000" >3/2</text>
<text transform="translate(2901.41,1069.70) scale(1.0653,1)" font-size="181.09" style="font-family:'Liberation Serif',serif;font-kerning:none" fill="#000" >Ω</text>
<text transform="translate(3046.96,1114.98) scale(1.0977,1)" font-size="104.19" style="font-family:'Liberation Serif',serif;font-style:italic;font-kerning:none" fill="#000" >S</text>
<text transform="translate(3842.66,1082.20) scale(1.0769,1)" font-size="190.91" style="font-family:'Liberation Serif',serif;font-kerning:none" fill="#000" >Ω</text>
<text transform="translate(4000.44,1132.40) scale(1.0850,1)" font-size="109.04" style="font-family:'Liberation Serif',serif;font-style:italic;font-kerning:none" fill="#000" >P</text>
<text transform="translate(2744.81,1392.30) scale(1.0162,1)" font-size="148.75" style="font-family:'Liberation Serif',serif;font-style:italic;font-kerning:none" fill="#000" >F</text>
<text transform="translate(2866.42,1402.78) scale(1.0730,1)" font-size="140.00" style="font-family:'Liberation Serif',serif;font-kerning:none" fill="#000" >=</text>
<text transform="translate(2970.98,1392.20) scale(0.9788,1)" font-size="146.95" style="font-family:'Liberation Serif',serif;font-kerning:none" fill="#000" >2,</text>
<text transform="translate(3083.76,1392.30) scale(1.0119,1)" font-size="137.95" style="font-family:'Liberation Serif',serif;font-style:italic;font-kerning:none" fill="#000" >m</text>
<text transform="translate(3182.66,1430.80) scale(0.9775,1)" font-size="87.05" style="font-family:'Liberation Serif',serif;font-style:italic;font-kerning:none" fill="#000" >F'</text>
<text transform="translate(3293.61,1402.78) scale(1.0883,1)" font-size="140.00" style="font-family:'Liberation Serif',serif;font-kerning:none" fill="#000" >=</text>
<text transform="translate(3398.21,1391.86) scale(0.9611,1)" font-size="147.30" style="font-family:'Liberation Serif',serif;font-kerning:none" fill="#000" >0</text>
<text transform="translate(3588.37,1562.20) scale(1.1029,1)" font-size="147.22" style="font-family:'Liberation Serif',serif;font-style:italic;font-kerning:none" fill="#000" >F</text>
<text transform="translate(3717.55,1571.69) scale(1.2182,1)" font-size="137.60" style="font-family:'Liberation Serif',serif;font-kerning:none" fill="#000" >=</text>
<text transform="translate(3829.16,1561.85) scale(0.8147,1)" font-size="148.53" style="font-family:'Liberation Serif',serif;font-kerning:none" fill="#000" >1,</text>
<text transform="translate(3931.98,1562.20) scale(1.0698,1)" font-size="137.74" style="font-family:'Liberation Serif',serif;font-style:italic;font-kerning:none" fill="#000" >m</text>
<text transform="translate(4037.69,1599.70) scale(1.0961,1)" font-size="84.00" style="font-family:'Liberation Serif',serif;font-style:italic;font-kerning:none" fill="#000" >F</text>
<text transform="translate(4136.41,1571.69) scale(1.2104,1)" font-size="137.60" style="font-family:'Liberation Serif',serif;font-kerning:none" fill="#000" >=</text>
<text transform="translate(4253.85,1561.76) scale(1.0251,1)" font-size="147.30" style="font-family:'Liberation Serif',serif;font-kerning:none" fill="#000" >0</text>
<clipPath id="cb"><rect x="535.0" y="2531.0" width="1759.0" height="950.0"/></clipPath>
<clipPath id="cc"><rect x="2677.0" y="2531.0" width="1760.0" height="950.0"/></clipPath>
<rect x="529.8" y="2526.8" width="10.5" height="953.6" fill="#000"/>
<rect x="2288.7" y="2526.8" width="10.6" height="953.6" fill="#000"/>
<rect x="529.8" y="2527.0" width="1769.5" height="8.2" fill="#000"/>
<rect x="529.8" y="3471.6" width="1769.5" height="9.0" fill="#000"/>
<rect x="617.8" y="3466.5" width="10.4" height="9.5" fill="#000"/>
<rect x="617.8" y="2531.0" width="10.4" height="8.6" fill="#000"/>
<rect x="705.7" y="3466.5" width="10.4" height="9.5" fill="#000"/>
<rect x="705.7" y="2531.0" width="10.4" height="8.6" fill="#000"/>
<rect x="793.6" y="3466.5" width="10.4" height="9.5" fill="#000"/>
<rect x="793.6" y="2531.0" width="10.4" height="8.6" fill="#000"/>
<rect x="881.6" y="3466.5" width="10.4" height="9.5" fill="#000"/>
<rect x="881.6" y="2531.0" width="10.4" height="8.6" fill="#000"/>
<rect x="969.5" y="3457.5" width="10.4" height="18.5" fill="#000"/>
<rect x="969.5" y="2531.0" width="10.4" height="19.0" fill="#000"/>
<rect x="1057.5" y="3466.5" width="10.4" height="9.5" fill="#000"/>
<rect x="1057.5" y="2531.0" width="10.4" height="8.6" fill="#000"/>
<rect x="1145.5" y="3466.5" width="10.4" height="9.5" fill="#000"/>
<rect x="1145.5" y="2531.0" width="10.4" height="8.6" fill="#000"/>
<rect x="1233.4" y="3466.5" width="10.4" height="9.5" fill="#000"/>
<rect x="1233.4" y="2531.0" width="10.4" height="8.6" fill="#000"/>
<rect x="1321.3" y="3466.5" width="10.4" height="9.5" fill="#000"/>
<rect x="1321.3" y="2531.0" width="10.4" height="8.6" fill="#000"/>
<rect x="1409.3" y="3457.5" width="10.4" height="18.5" fill="#000"/>
<rect x="1409.3" y="2531.0" width="10.4" height="19.0" fill="#000"/>
<rect x="1497.2" y="3466.5" width="10.4" height="9.5" fill="#000"/>
<rect x="1497.2" y="2531.0" width="10.4" height="8.6" fill="#000"/>
<rect x="1585.2" y="3466.5" width="10.4" height="9.5" fill="#000"/>
<rect x="1585.2" y="2531.0" width="10.4" height="8.6" fill="#000"/>
<rect x="1673.1" y="3466.5" width="10.4" height="9.5" fill="#000"/>
<rect x="1673.1" y="2531.0" width="10.4" height="8.6" fill="#000"/>
<rect x="1761.1" y="3466.5" width="10.4" height="9.5" fill="#000"/>
<rect x="1761.1" y="2531.0" width="10.4" height="8.6" fill="#000"/>
<rect x="1849.0" y="3457.5" width="10.4" height="18.5" fill="#000"/>
<rect x="1849.0" y="2531.0" width="10.4" height="19.0" fill="#000"/>
<rect x="1937.0" y="3466.5" width="10.4" height="9.5" fill="#000"/>
<rect x="1937.0" y="2531.0" width="10.4" height="8.6" fill="#000"/>
<rect x="2025.0" y="3466.5" width="10.4" height="9.5" fill="#000"/>
<rect x="2025.0" y="2531.0" width="10.4" height="8.6" fill="#000"/>
<rect x="2112.9" y="3466.5" width="10.4" height="9.5" fill="#000"/>
<rect x="2112.9" y="2531.0" width="10.4" height="8.6" fill="#000"/>
<rect x="2200.9" y="3466.5" width="10.4" height="9.5" fill="#000"/>
<rect x="2200.9" y="2531.0" width="10.4" height="8.6" fill="#000"/>
<rect x="535.0" y="3409.2" width="12.8" height="7.6" fill="#000"/>
<rect x="2279.8" y="3409.2" width="14.2" height="7.6" fill="#000"/>
<rect x="535.0" y="3346.2" width="12.8" height="7.6" fill="#000"/>
<rect x="2279.8" y="3346.2" width="14.2" height="7.6" fill="#000"/>
<rect x="535.0" y="3283.2" width="12.8" height="7.6" fill="#000"/>
<rect x="2279.8" y="3283.2" width="14.2" height="7.6" fill="#000"/>
<rect x="535.0" y="3220.2" width="12.8" height="7.6" fill="#000"/>
<rect x="2279.8" y="3220.2" width="14.2" height="7.6" fill="#000"/>
<rect x="535.0" y="3157.2" width="25.0" height="7.6" fill="#000"/>
<rect x="2267.3" y="3157.2" width="26.7" height="7.6" fill="#000"/>
<rect x="535.0" y="3094.2" width="12.8" height="7.6" fill="#000"/>
<rect x="2279.8" y="3094.2" width="14.2" height="7.6" fill="#000"/>
<rect x="535.0" y="3031.2" width="12.8" height="7.6" fill="#000"/>
<rect x="2279.8" y="3031.2" width="14.2" height="7.6" fill="#000"/>
<rect x="535.0" y="2968.2" width="12.8" height="7.6" fill="#000"/>
<rect x="2279.8" y="2968.2" width="14.2" height="7.6" fill="#000"/>
<rect x="535.0" y="2905.2" width="12.8" height="7.6" fill="#000"/>
<rect x="2279.8" y="2905.2" width="14.2" height="7.6" fill="#000"/>
<rect x="535.0" y="2842.2" width="25.0" height="7.6" fill="#000"/>
<rect x="2267.3" y="2842.2" width="26.7" height="7.6" fill="#000"/>
<rect x="535.0" y="2779.2" width="12.8" height="7.6" fill="#000"/>
<rect x="2279.8" y="2779.2" width="14.2" height="7.6" fill="#000"/>
<rect x="535.0" y="2716.2" width="12.8" height="7.6" fill="#000"/>
<rect x="2279.8" y="2716.2" width="14.2" height="7.6" fill="#000"/>
<rect x="535.0" y="2653.2" width="12.8" height="7.6" fill="#000"/>
<rect x="2279.8" y="2653.2" width="14.2" height="7.6" fill="#000"/>
<rect x="535.0" y="2590.2" width="12.8" height="7.6" fill="#000"/>
<rect x="2279.8" y="2590.2" width="14.2" height="7.6" fill="#000"/>
<g clip-path="url(#cb)">
<path d="M535.0,3471.3 L537.2,3471.2 L539.4,3471.1 L541.6,3471.0 L543.8,3470.9 L546.0,3470.8 L548.2,3470.7 L550.4,3470.6 L552.6,3470.5 L554.8,3470.4 L557.0,3470.3 L559.2,3470.1 L561.4,3470.0 L563.6,3469.9 L565.8,3469.7 L568.0,3469.6 L570.2,3469.5 L572.4,3469.3 L574.6,3469.2 L576.8,3469.0 L579.0,3468.8 L581.2,3468.7 L583.4,3468.5 L585.6,3468.3 L587.8,3468.1 L590.0,3467.9 L592.2,3467.7 L594.4,3467.5 L596.6,3467.3 L598.8,3467.1 L601.0,3466.9 L603.2,3466.6 L605.4,3466.4 L607.6,3466.2 L609.8,3465.9 L612.0,3465.7 L614.2,3465.4 L616.4,3465.1 L618.6,3464.8 L620.8,3464.5 L623.0,3464.3 L625.1,3463.9 L627.3,3463.6 L629.5,3463.3 L631.7,3463.0 L633.9,3462.6 L636.1,3462.3 L638.3,3461.9 L640.5,3461.6 L642.7,3461.2 L644.9,3460.8 L647.1,3460.4 L649.3,3460.0 L651.5,3459.6 L653.7,3459.1 L655.9,3458.7 L658.1,3458.2 L660.3,3457.7 L662.5,3457.3 L664.7,3456.8 L666.9,3456.3 L669.1,3455.7 L671.3,3455.2 L673.5,3454.7 L675.7,3454.1 L677.9,3453.5 L680.1,3452.9 L682.3,3452.3 L684.5,3451.7 L686.7,3451.1 L688.9,3450.4 L691.1,3449.8 L693.3,3449.1 L695.5,3448.4 L697.7,3447.7 L699.9,3447.0 L702.1,3446.2 L704.3,3445.4 L706.5,3444.7 L708.7,3443.9 L710.9,3443.0 L713.1,3442.2 L715.3,3441.3 L717.5,3440.5 L719.7,3439.6 L721.9,3438.6 L724.1,3437.7 L726.3,3436.7 L728.5,3435.7 L730.7,3434.7 L732.9,3433.7 L735.1,3432.7 L737.3,3431.6 L739.5,3430.5 L741.7,3429.4 L743.9,3428.2 L746.1,3427.1 L748.3,3425.9 L750.5,3424.7 L752.7,3423.4 L754.9,3422.2 L757.1,3420.9 L759.3,3419.6 L761.5,3418.2 L763.7,3416.9 L765.9,3415.5 L768.1,3414.0 L770.3,3412.6 L772.5,3411.1 L774.7,3409.6 L776.9,3408.0 L779.1,3406.5 L781.3,3404.9 L783.5,3403.3 L785.7,3401.6 L787.9,3399.9 L790.1,3398.2 L792.3,3396.4 L794.5,3394.7 L796.7,3392.8 L798.8,3391.0 L801.0,3389.1 L803.2,3387.2 L805.4,3385.3 L807.6,3383.3 L809.8,3381.3 L812.0,3379.2 L814.2,3377.1 L816.4,3375.0 L818.6,3372.9 L820.8,3370.7 L823.0,3368.5 L825.2,3366.2 L827.4,3363.9 L829.6,3361.6 L831.8,3359.2 L834.0,3356.8 L836.2,3354.4 L838.4,3351.9 L840.6,3349.4 L842.8,3346.8 L845.0,3344.2 L847.2,3341.6 L849.4,3338.9 L851.6,3336.2 L853.8,3333.5 L856.0,3330.7 L858.2,3327.9 L860.4,3325.0 L862.6,3322.1 L864.8,3319.2 L867.0,3316.2 L869.2,3313.2 L871.4,3310.1 L873.6,3307.0 L875.8,3303.9 L878.0,3300.7 L880.2,3297.5 L882.4,3294.3 L884.6,3291.0 L886.8,3287.7 L889.0,3284.3 L891.2,3280.9 L893.4,3277.4 L895.6,3273.9 L897.8,3270.4 L900.0,3266.8 L902.2,3263.2 L904.4,3259.6 L906.6,3255.9 L908.8,3252.2 L911.0,3248.4 L913.2,3244.6 L915.4,3240.8 L917.6,3236.9 L919.8,3233.0 L922.0,3229.1 L924.2,3225.1 L926.4,3221.1 L928.6,3217.0 L930.8,3212.9 L933.0,3208.8 L935.2,3204.6 L937.4,3200.4 L939.6,3196.2 L941.8,3191.9 L944.0,3187.7 L946.2,3183.3 L948.4,3179.0 L950.6,3174.6 L952.8,3170.1 L955.0,3165.7 L957.2,3161.2 L959.4,3156.7 L961.6,3152.1 L963.8,3147.6 L966.0,3143.0 L968.2,3138.3 L970.4,3133.7 L972.6,3129.0 L974.8,3124.3 L976.9,3119.6 L979.1,3114.8 L981.3,3110.0 L983.5,3105.2 L985.7,3100.4 L987.9,3095.6 L990.1,3090.7 L992.3,3085.8 L994.5,3080.9 L996.7,3076.0 L998.9,3071.1 L1001.1,3066.1 L1003.3,3061.2 L1005.5,3056.2 L1007.7,3051.2 L1009.9,3046.2 L1012.1,3041.2 L1014.3,3036.2 L1016.5,3031.2 L1018.7,3026.1 L1020.9,3021.1 L1023.1,3016.1 L1025.3,3011.0 L1027.5,3006.0 L1029.7,3000.9 L1031.9,2995.8 L1034.1,2990.8 L1036.3,2985.7 L1038.5,2980.7 L1040.7,2975.6 L1042.9,2970.6 L1045.1,2965.6 L1047.3,2960.5 L1049.5,2955.5 L1051.7,2950.5 L1053.9,2945.5 L1056.1,2940.5 L1058.3,2935.6 L1060.5,2930.6 L1062.7,2925.7 L1064.9,2920.7 L1067.1,2915.8 L1069.3,2910.9 L1071.5,2906.1 L1073.7,2901.2 L1075.9,2896.4 L1078.1,2891.6 L1080.3,2886.9 L1082.5,2882.1 L1084.7,2877.4 L1086.9,2872.7 L1089.1,2868.1 L1091.3,2863.5 L1093.5,2858.9 L1095.7,2854.3 L1097.9,2849.8 L1100.1,2845.3 L1102.3,2840.9 L1104.5,2836.5 L1106.7,2832.2 L1108.9,2827.8 L1111.1,2823.6 L1113.3,2819.4 L1115.5,2815.2 L1117.7,2811.1 L1119.9,2807.0 L1122.1,2803.0 L1124.3,2799.0 L1126.5,2795.1 L1128.7,2791.2 L1130.9,2787.4 L1133.1,2783.6 L1135.3,2779.9 L1137.5,2776.3 L1139.7,2772.7 L1141.9,2769.2 L1144.1,2765.7 L1146.3,2762.3 L1148.5,2759.0 L1150.7,2755.8 L1152.8,2752.6 L1155.0,2749.4 L1157.2,2746.4 L1159.4,2743.4 L1161.6,2740.4 L1163.8,2737.6 L1166.0,2734.8 L1168.2,2732.1 L1170.4,2729.5 L1172.6,2726.9 L1174.8,2724.4 L1177.0,2722.0 L1179.2,2719.7 L1181.4,2717.4 L1183.6,2715.3 L1185.8,2713.2 L1188.0,2711.2 L1190.2,2709.2 L1192.4,2707.4 L1194.6,2705.6 L1196.8,2703.9 L1199.0,2702.3 L1201.2,2700.8 L1203.4,2699.4 L1205.6,2698.0 L1207.8,2696.7 L1210.0,2695.6 L1212.2,2694.5 L1214.4,2693.5 L1216.6,2692.5 L1218.8,2691.7 L1221.0,2691.0 L1223.2,2690.3 L1225.4,2689.7 L1227.6,2689.2 L1229.8,2688.8 L1232.0,2688.5 L1234.2,2688.3 L1236.4,2688.2 L1238.6,2688.1 L1240.8,2688.2 L1243.0,2688.3 L1245.2,2688.5 L1247.4,2688.8 L1249.6,2689.2 L1251.8,2689.7 L1254.0,2690.3 L1256.2,2691.0 L1258.4,2691.7 L1260.6,2692.5 L1262.8,2693.5 L1265.0,2694.5 L1267.2,2695.6 L1269.4,2696.7 L1271.6,2698.0 L1273.8,2699.4 L1276.0,2700.8 L1278.2,2702.3 L1280.4,2703.9 L1282.6,2705.6 L1284.8,2707.4 L1287.0,2709.2 L1289.2,2711.2 L1291.4,2713.2 L1293.6,2715.3 L1295.8,2717.4 L1298.0,2719.7 L1300.2,2722.0 L1302.4,2724.4 L1304.6,2726.9 L1306.8,2729.5 L1309.0,2732.1 L1311.2,2734.8 L1313.4,2737.6 L1315.6,2740.4 L1317.8,2743.4 L1320.0,2746.4 L1322.2,2749.4 L1324.4,2752.6 L1326.5,2755.8 L1328.7,2759.0 L1330.9,2762.3 L1333.1,2765.7 L1335.3,2769.2 L1337.5,2772.7 L1339.7,2776.3 L1341.9,2779.9 L1344.1,2783.6 L1346.3,2787.4 L1348.5,2791.2 L1350.7,2795.1 L1352.9,2799.0 L1355.1,2803.0 L1357.3,2807.0 L1359.5,2811.1 L1361.7,2815.2 L1363.9,2819.4 L1366.1,2823.6 L1368.3,2827.8 L1370.5,2832.2 L1372.7,2836.5 L1374.9,2840.9 L1377.1,2845.3 L1379.3,2849.8 L1381.5,2854.3 L1383.7,2858.9 L1385.9,2863.5 L1388.1,2868.1 L1390.3,2872.7 L1392.5,2877.4 L1394.7,2882.1 L1396.9,2886.9 L1399.1,2891.6 L1401.3,2896.4 L1403.5,2901.2 L1405.7,2906.1 L1407.9,2910.9 L1410.1,2915.8 L1412.3,2920.7 L1414.5,2925.7 L1416.7,2930.6 L1418.9,2935.6 L1421.1,2940.5 L1423.3,2945.5 L1425.5,2950.5 L1427.7,2955.5 L1429.9,2960.5 L1432.1,2965.6 L1434.3,2970.6 L1436.5,2975.6 L1438.7,2980.7 L1440.9,2985.7 L1443.1,2990.8 L1445.3,2995.8 L1447.5,3000.9 L1449.7,3006.0 L1451.9,3011.0 L1454.1,3016.1 L1456.3,3021.1 L1458.5,3026.1 L1460.7,3031.2 L1462.9,3036.2 L1465.1,3041.2 L1467.3,3046.2 L1469.5,3051.2 L1471.7,3056.2 L1473.9,3061.2 L1476.1,3066.1 L1478.3,3071.1 L1480.5,3076.0 L1482.7,3080.9 L1484.9,3085.8 L1487.1,3090.7 L1489.3,3095.6 L1491.5,3100.4 L1493.7,3105.2 L1495.9,3110.0 L1498.1,3114.8 L1500.3,3119.6 L1502.5,3124.3 L1504.6,3129.0 L1506.8,3133.7 L1509.0,3138.3 L1511.2,3143.0 L1513.4,3147.6 L1515.6,3152.1 L1517.8,3156.7 L1520.0,3161.2 L1522.2,3165.7 L1524.4,3170.1 L1526.6,3174.6 L1528.8,3179.0 L1531.0,3183.3 L1533.2,3187.7 L1535.4,3191.9 L1537.6,3196.2 L1539.8,3200.4 L1542.0,3204.6 L1544.2,3208.8 L1546.4,3212.9 L1548.6,3217.0 L1550.8,3221.1 L1553.0,3225.1 L1555.2,3229.1 L1557.4,3233.0 L1559.6,3236.9 L1561.8,3240.8 L1564.0,3244.6 L1566.2,3248.4 L1568.4,3252.2 L1570.6,3255.9 L1572.8,3259.6 L1575.0,3263.2 L1577.2,3266.8 L1579.4,3270.4 L1581.6,3273.9 L1583.8,3277.4 L1586.0,3280.9 L1588.2,3284.3 L1590.4,3287.7 L1592.6,3291.0 L1594.8,3294.3 L1597.0,3297.5 L1599.2,3300.7 L1601.4,3303.9 L1603.6,3307.0 L1605.8,3310.1 L1608.0,3313.2 L1610.2,3316.2 L1612.4,3319.2 L1614.6,3322.1 L1616.8,3325.0 L1619.0,3327.9 L1621.2,3330.7 L1623.4,3333.5 L1625.6,3336.2 L1627.8,3338.9 L1630.0,3341.6 L1632.2,3344.2 L1634.4,3346.8 L1636.6,3349.4 L1638.8,3351.9 L1641.0,3354.4 L1643.2,3356.8 L1645.4,3359.2 L1647.6,3361.6 L1649.8,3363.9 L1652.0,3366.2 L1654.2,3368.5 L1656.4,3370.7 L1658.6,3372.9 L1660.8,3375.0 L1663.0,3377.1 L1665.2,3379.2 L1667.4,3381.3 L1669.6,3383.3 L1671.8,3385.3 L1674.0,3387.2 L1676.2,3389.1 L1678.3,3391.0 L1680.5,3392.8 L1682.7,3394.7 L1684.9,3396.4 L1687.1,3398.2 L1689.3,3399.9 L1691.5,3401.6 L1693.7,3403.3 L1695.9,3404.9 L1698.1,3406.5 L1700.3,3408.0 L1702.5,3409.6 L1704.7,3411.1 L1706.9,3412.6 L1709.1,3414.0 L1711.3,3415.5 L1713.5,3416.9 L1715.7,3418.2 L1717.9,3419.6 L1720.1,3420.9 L1722.3,3422.2 L1724.5,3423.4 L1726.7,3424.7 L1728.9,3425.9 L1731.1,3427.1 L1733.3,3428.2 L1735.5,3429.4 L1737.7,3430.5 L1739.9,3431.6 L1742.1,3432.7 L1744.3,3433.7 L1746.5,3434.7 L1748.7,3435.7 L1750.9,3436.7 L1753.1,3437.7 L1755.3,3438.6 L1757.5,3439.6 L1759.7,3440.5 L1761.9,3441.3 L1764.1,3442.2 L1766.3,3443.0 L1768.5,3443.9 L1770.7,3444.7 L1772.9,3445.4 L1775.1,3446.2 L1777.3,3447.0 L1779.5,3447.7 L1781.7,3448.4 L1783.9,3449.1 L1786.1,3449.8 L1788.3,3450.4 L1790.5,3451.1 L1792.7,3451.7 L1794.9,3452.3 L1797.1,3452.9 L1799.3,3453.5 L1801.5,3454.1 L1803.7,3454.7 L1805.9,3455.2 L1808.1,3455.7 L1810.3,3456.3 L1812.5,3456.8 L1814.7,3457.3 L1816.9,3457.7 L1819.1,3458.2 L1821.3,3458.7 L1823.5,3459.1 L1825.7,3459.6 L1827.9,3460.0 L1830.1,3460.4 L1832.3,3460.8 L1834.5,3461.2 L1836.7,3461.6 L1838.9,3461.9 L1841.1,3462.3 L1843.3,3462.6 L1845.5,3463.0 L1847.7,3463.3 L1849.9,3463.6 L1852.1,3463.9 L1854.2,3464.3 L1856.4,3464.5 L1858.6,3464.8 L1860.8,3465.1 L1863.0,3465.4 L1865.2,3465.7 L1867.4,3465.9 L1869.6,3466.2 L1871.8,3466.4 L1874.0,3466.6 L1876.2,3466.9 L1878.4,3467.1 L1880.6,3467.3 L1882.8,3467.5 L1885.0,3467.7 L1887.2,3467.9 L1889.4,3468.1 L1891.6,3468.3 L1893.8,3468.5 L1896.0,3468.7 L1898.2,3468.8 L1900.4,3469.0 L1902.6,3469.2 L1904.8,3469.3 L1907.0,3469.5 L1909.2,3469.6 L1911.4,3469.7 L1913.6,3469.9 L1915.8,3470.0 L1918.0,3470.1 L1920.2,3470.3 L1922.4,3470.4 L1924.6,3470.5 L1926.8,3470.6 L1929.0,3470.7 L1931.2,3470.8 L1933.4,3470.9 L1935.6,3471.0 L1937.8,3471.1 L1940.0,3471.2 L1942.2,3471.3 L1944.4,3471.4 L1946.6,3471.5 L1948.8,3471.6 L1951.0,3471.7 L1953.2,3471.7 L1955.4,3471.8 L1957.6,3471.9 L1959.8,3472.0 L1962.0,3472.0 L1964.2,3472.1 L1966.4,3472.1 L1968.6,3472.2 L1970.8,3472.3 L1973.0,3472.3 L1975.2,3472.4 L1977.4,3472.4 L1979.6,3472.5 L1981.8,3472.5 L1984.0,3472.6 L1986.2,3472.6 L1988.4,3472.7 L1990.6,3472.7 L1992.8,3472.8 L1995.0,3472.8 L1997.2,3472.8 L1999.4,3472.9 L2001.6,3472.9 L2003.8,3472.9 L2006.0,3473.0 L2008.2,3473.0 L2010.4,3473.0 L2012.6,3473.1 L2014.8,3473.1 L2017.0,3473.1 L2019.2,3473.1 L2021.4,3473.2 L2023.6,3473.2 L2025.8,3473.2 L2028.0,3473.2 L2030.2,3473.3 L2032.3,3473.3 L2034.5,3473.3 L2036.7,3473.3 L2038.9,3473.3 L2041.1,3473.4 L2043.3,3473.4 L2045.5,3473.4 L2047.7,3473.4 L2049.9,3473.4 L2052.1,3473.4 L2054.3,3473.5 L2056.5,3473.5 L2058.7,3473.5 L2060.9,3473.5 L2063.1,3473.5 L2065.3,3473.5 L2067.5,3473.5 L2069.7,3473.5 L2071.9,3473.6 L2074.1,3473.6 L2076.3,3473.6 L2078.5,3473.6 L2080.7,3473.6 L2082.9,3473.6 L2085.1,3473.6 L2087.3,3473.6 L2089.5,3473.6 L2091.7,3473.6 L2093.9,3473.6 L2096.1,3473.6 L2098.3,3473.7 L2100.5,3473.7 L2102.7,3473.7 L2104.9,3473.7 L2107.1,3473.7 L2109.3,3473.7 L2111.5,3473.7 L2113.7,3473.7 L2115.9,3473.7 L2118.1,3473.7 L2120.3,3473.7 L2122.5,3473.7 L2124.7,3473.7 L2126.9,3473.7 L2129.1,3473.7 L2131.3,3473.7 L2133.5,3473.7 L2135.7,3473.7 L2137.9,3473.7 L2140.1,3473.7 L2142.3,3473.7 L2144.5,3473.7 L2146.7,3473.7 L2148.9,3473.7 L2151.1,3473.8 L2153.3,3473.8 L2155.5,3473.8 L2157.7,3473.8 L2159.9,3473.8 L2162.1,3473.8 L2164.3,3473.8 L2166.5,3473.8 L2168.7,3473.8 L2170.9,3473.8 L2173.1,3473.8 L2175.3,3473.8 L2177.5,3473.8 L2179.7,3473.8 L2181.9,3473.8 L2184.1,3473.8 L2186.3,3473.8 L2188.5,3473.8 L2190.7,3473.8 L2192.9,3473.8 L2195.1,3473.8 L2197.3,3473.8 L2199.5,3473.8 L2201.7,3473.8 L2203.9,3473.8 L2206.0,3473.8 L2208.2,3473.8 L2210.4,3473.8 L2212.6,3473.8 L2214.8,3473.8 L2217.0,3473.8 L2219.2,3473.8 L2221.4,3473.8 L2223.6,3473.8 L2225.8,3473.8 L2228.0,3473.8 L2230.2,3473.8 L2232.4,3473.8 L2234.6,3473.8 L2236.8,3473.8 L2239.0,3473.8 L2241.2,3473.8 L2243.4,3473.8 L2245.6,3473.8 L2247.8,3473.8 L2250.0,3473.8 L2252.2,3473.8 L2254.4,3473.8 L2256.6,3473.8 L2258.8,3473.8 L2261.0,3473.8 L2263.2,3473.8 L2265.4,3473.8 L2267.6,3473.8 L2269.8,3473.8 L2272.0,3473.8 L2274.2,3473.8 L2276.4,3473.8 L2278.6,3473.8 L2280.8,3473.8 L2283.0,3473.8 L2285.2,3473.8 L2287.4,3473.8 L2289.6,3473.8 L2291.8,3473.8 L2294.0,3473.8" fill="none" stroke="#0b0bdc" stroke-width="10.5" stroke-dasharray="40 42.5" stroke-dashoffset="0" stroke-linejoin="round"/>
<path d="M535.0,3473.8 L537.2,3473.8 L539.4,3473.8 L541.6,3473.8 L543.8,3473.8 L546.0,3473.8 L548.2,3473.8 L550.4,3473.8 L552.6,3473.8 L554.8,3473.8 L557.0,3473.8 L559.2,3473.8 L561.4,3473.8 L563.6,3473.8 L565.8,3473.8 L568.0,3473.8 L570.2,3473.8 L572.4,3473.8 L574.6,3473.8 L576.8,3473.8 L579.0,3473.8 L581.2,3473.8 L583.4,3473.8 L585.6,3473.8 L587.8,3473.8 L590.0,3473.8 L592.2,3473.8 L594.4,3473.8 L596.6,3473.8 L598.8,3473.8 L601.0,3473.8 L603.2,3473.8 L605.4,3473.8 L607.6,3473.8 L609.8,3473.8 L612.0,3473.8 L614.2,3473.8 L616.4,3473.8 L618.6,3473.8 L620.8,3473.8 L623.0,3473.8 L625.1,3473.8 L627.3,3473.8 L629.5,3473.8 L631.7,3473.8 L633.9,3473.8 L636.1,3473.8 L638.3,3473.8 L640.5,3473.8 L642.7,3473.8 L644.9,3473.8 L647.1,3473.8 L649.3,3473.8 L651.5,3473.8 L653.7,3473.8 L655.9,3473.8 L658.1,3473.8 L660.3,3473.8 L662.5,3473.8 L664.7,3473.8 L666.9,3473.8 L669.1,3473.8 L671.3,3473.8 L673.5,3473.8 L675.7,3473.8 L677.9,3473.8 L680.1,3473.7 L682.3,3473.7 L684.5,3473.7 L686.7,3473.7 L688.9,3473.7 L691.1,3473.7 L693.3,3473.7 L695.5,3473.7 L697.7,3473.7 L699.9,3473.7 L702.1,3473.7 L704.3,3473.7 L706.5,3473.7 L708.7,3473.7 L710.9,3473.7 L713.1,3473.7 L715.3,3473.7 L717.5,3473.7 L719.7,3473.7 L721.9,3473.7 L724.1,3473.7 L726.3,3473.7 L728.5,3473.7 L730.7,3473.7 L732.9,3473.6 L735.1,3473.6 L737.3,3473.6 L739.5,3473.6 L741.7,3473.6 L743.9,3473.6 L746.1,3473.6 L748.3,3473.6 L750.5,3473.6 L752.7,3473.6 L754.9,3473.6 L757.1,3473.6 L759.3,3473.5 L761.5,3473.5 L763.7,3473.5 L765.9,3473.5 L768.1,3473.5 L770.3,3473.5 L772.5,3473.5 L774.7,3473.5 L776.9,3473.4 L779.1,3473.4 L781.3,3473.4 L783.5,3473.4 L785.7,3473.4 L787.9,3473.4 L790.1,3473.3 L792.3,3473.3 L794.5,3473.3 L796.7,3473.3 L798.8,3473.3 L801.0,3473.2 L803.2,3473.2 L805.4,3473.2 L807.6,3473.2 L809.8,3473.1 L812.0,3473.1 L814.2,3473.1 L816.4,3473.1 L818.6,3473.0 L820.8,3473.0 L823.0,3473.0 L825.2,3472.9 L827.4,3472.9 L829.6,3472.9 L831.8,3472.8 L834.0,3472.8 L836.2,3472.8 L838.4,3472.7 L840.6,3472.7 L842.8,3472.6 L845.0,3472.6 L847.2,3472.5 L849.4,3472.5 L851.6,3472.4 L853.8,3472.4 L856.0,3472.3 L858.2,3472.3 L860.4,3472.2 L862.6,3472.1 L864.8,3472.1 L867.0,3472.0 L869.2,3472.0 L871.4,3471.9 L873.6,3471.8 L875.8,3471.7 L878.0,3471.7 L880.2,3471.6 L882.4,3471.5 L884.6,3471.4 L886.8,3471.3 L889.0,3471.2 L891.2,3471.1 L893.4,3471.0 L895.6,3470.9 L897.8,3470.8 L900.0,3470.7 L902.2,3470.6 L904.4,3470.5 L906.6,3470.4 L908.8,3470.3 L911.0,3470.1 L913.2,3470.0 L915.4,3469.9 L917.6,3469.7 L919.8,3469.6 L922.0,3469.5 L924.2,3469.3 L926.4,3469.2 L928.6,3469.0 L930.8,3468.8 L933.0,3468.7 L935.2,3468.5 L937.4,3468.3 L939.6,3468.1 L941.8,3467.9 L944.0,3467.7 L946.2,3467.5 L948.4,3467.3 L950.6,3467.1 L952.8,3466.9 L955.0,3466.6 L957.2,3466.4 L959.4,3466.2 L961.6,3465.9 L963.8,3465.7 L966.0,3465.4 L968.2,3465.1 L970.4,3464.8 L972.6,3464.5 L974.8,3464.3 L976.9,3463.9 L979.1,3463.6 L981.3,3463.3 L983.5,3463.0 L985.7,3462.6 L987.9,3462.3 L990.1,3461.9 L992.3,3461.6 L994.5,3461.2 L996.7,3460.8 L998.9,3460.4 L1001.1,3460.0 L1003.3,3459.6 L1005.5,3459.1 L1007.7,3458.7 L1009.9,3458.2 L1012.1,3457.7 L1014.3,3457.3 L1016.5,3456.8 L1018.7,3456.3 L1020.9,3455.7 L1023.1,3455.2 L1025.3,3454.7 L1027.5,3454.1 L1029.7,3453.5 L1031.9,3452.9 L1034.1,3452.3 L1036.3,3451.7 L1038.5,3451.1 L1040.7,3450.4 L1042.9,3449.8 L1045.1,3449.1 L1047.3,3448.4 L1049.5,3447.7 L1051.7,3447.0 L1053.9,3446.2 L1056.1,3445.4 L1058.3,3444.7 L1060.5,3443.9 L1062.7,3443.0 L1064.9,3442.2 L1067.1,3441.3 L1069.3,3440.5 L1071.5,3439.6 L1073.7,3438.6 L1075.9,3437.7 L1078.1,3436.7 L1080.3,3435.7 L1082.5,3434.7 L1084.7,3433.7 L1086.9,3432.7 L1089.1,3431.6 L1091.3,3430.5 L1093.5,3429.4 L1095.7,3428.2 L1097.9,3427.1 L1100.1,3425.9 L1102.3,3424.7 L1104.5,3423.4 L1106.7,3422.2 L1108.9,3420.9 L1111.1,3419.6 L1113.3,3418.2 L1115.5,3416.9 L1117.7,3415.5 L1119.9,3414.0 L1122.1,3412.6 L1124.3,3411.1 L1126.5,3409.6 L1128.7,3408.0 L1130.9,3406.5 L1133.1,3404.9 L1135.3,3403.3 L1137.5,3401.6 L1139.7,3399.9 L1141.9,3398.2 L1144.1,3396.4 L1146.3,3394.7 L1148.5,3392.8 L1150.7,3391.0 L1152.8,3389.1 L1155.0,3387.2 L1157.2,3385.3 L1159.4,3383.3 L1161.6,3381.3 L1163.8,3379.2 L1166.0,3377.1 L1168.2,3375.0 L1170.4,3372.9 L1172.6,3370.7 L1174.8,3368.5 L1177.0,3366.2 L1179.2,3363.9 L1181.4,3361.6 L1183.6,3359.2 L1185.8,3356.8 L1188.0,3354.4 L1190.2,3351.9 L1192.4,3349.4 L1194.6,3346.8 L1196.8,3344.2 L1199.0,3341.6 L1201.2,3338.9 L1203.4,3336.2 L1205.6,3333.5 L1207.8,3330.7 L1210.0,3327.9 L1212.2,3325.0 L1214.4,3322.1 L1216.6,3319.2 L1218.8,3316.2 L1221.0,3313.2 L1223.2,3310.1 L1225.4,3307.0 L1227.6,3303.9 L1229.8,3300.7 L1232.0,3297.5 L1234.2,3294.3 L1236.4,3291.0 L1238.6,3287.7 L1240.8,3284.3 L1243.0,3280.9 L1245.2,3277.4 L1247.4,3273.9 L1249.6,3270.4 L1251.8,3266.8 L1254.0,3263.2 L1256.2,3259.6 L1258.4,3255.9 L1260.6,3252.2 L1262.8,3248.4 L1265.0,3244.6 L1267.2,3240.8 L1269.4,3236.9 L1271.6,3233.0 L1273.8,3229.1 L1276.0,3225.1 L1278.2,3221.1 L1280.4,3217.0 L1282.6,3212.9 L1284.8,3208.8 L1287.0,3204.6 L1289.2,3200.4 L1291.4,3196.2 L1293.6,3191.9 L1295.8,3187.7 L1298.0,3183.3 L1300.2,3179.0 L1302.4,3174.6 L1304.6,3170.1 L1306.8,3165.7 L1309.0,3161.2 L1311.2,3156.7 L1313.4,3152.1 L1315.6,3147.6 L1317.8,3143.0 L1320.0,3138.3 L1322.2,3133.7 L1324.4,3129.0 L1326.5,3124.3 L1328.7,3119.6 L1330.9,3114.8 L1333.1,3110.0 L1335.3,3105.2 L1337.5,3100.4 L1339.7,3095.6 L1341.9,3090.7 L1344.1,3085.8 L1346.3,3080.9 L1348.5,3076.0 L1350.7,3071.1 L1352.9,3066.1 L1355.1,3061.2 L1357.3,3056.2 L1359.5,3051.2 L1361.7,3046.2 L1363.9,3041.2 L1366.1,3036.2 L1368.3,3031.2 L1370.5,3026.1 L1372.7,3021.1 L1374.9,3016.1 L1377.1,3011.0 L1379.3,3006.0 L1381.5,3000.9 L1383.7,2995.8 L1385.9,2990.8 L1388.1,2985.7 L1390.3,2980.7 L1392.5,2975.6 L1394.7,2970.6 L1396.9,2965.6 L1399.1,2960.5 L1401.3,2955.5 L1403.5,2950.5 L1405.7,2945.5 L1407.9,2940.5 L1410.1,2935.6 L1412.3,2930.6 L1414.5,2925.7 L1416.7,2920.7 L1418.9,2915.8 L1421.1,2910.9 L1423.3,2906.1 L1425.5,2901.2 L1427.7,2896.4 L1429.9,2891.6 L1432.1,2886.9 L1434.3,2882.1 L1436.5,2877.4 L1438.7,2872.7 L1440.9,2868.1 L1443.1,2863.5 L1445.3,2858.9 L1447.5,2854.3 L1449.7,2849.8 L1451.9,2845.3 L1454.1,2840.9 L1456.3,2836.5 L1458.5,2832.2 L1460.7,2827.8 L1462.9,2823.6 L1465.1,2819.4 L1467.3,2815.2 L1469.5,2811.1 L1471.7,2807.0 L1473.9,2803.0 L1476.1,2799.0 L1478.3,2795.1 L1480.5,2791.2 L1482.7,2787.4 L1484.9,2783.6 L1487.1,2779.9 L1489.3,2776.3 L1491.5,2772.7 L1493.7,2769.2 L1495.9,2765.7 L1498.1,2762.3 L1500.3,2759.0 L1502.5,2755.8 L1504.6,2752.6 L1506.8,2749.4 L1509.0,2746.4 L1511.2,2743.4 L1513.4,2740.4 L1515.6,2737.6 L1517.8,2734.8 L1520.0,2732.1 L1522.2,2729.5 L1524.4,2726.9 L1526.6,2724.4 L1528.8,2722.0 L1531.0,2719.7 L1533.2,2717.4 L1535.4,2715.3 L1537.6,2713.2 L1539.8,2711.2 L1542.0,2709.2 L1544.2,2707.4 L1546.4,2705.6 L1548.6,2703.9 L1550.8,2702.3 L1553.0,2700.8 L1555.2,2699.4 L1557.4,2698.0 L1559.6,2696.7 L1561.8,2695.6 L1564.0,2694.5 L1566.2,2693.5 L1568.4,2692.5 L1570.6,2691.7 L1572.8,2691.0 L1575.0,2690.3 L1577.2,2689.7 L1579.4,2689.2 L1581.6,2688.8 L1583.8,2688.5 L1586.0,2688.3 L1588.2,2688.2 L1590.4,2688.1 L1592.6,2688.2 L1594.8,2688.3 L1597.0,2688.5 L1599.2,2688.8 L1601.4,2689.2 L1603.6,2689.7 L1605.8,2690.3 L1608.0,2691.0 L1610.2,2691.7 L1612.4,2692.5 L1614.6,2693.5 L1616.8,2694.5 L1619.0,2695.6 L1621.2,2696.7 L1623.4,2698.0 L1625.6,2699.4 L1627.8,2700.8 L1630.0,2702.3 L1632.2,2703.9 L1634.4,2705.6 L1636.6,2707.4 L1638.8,2709.2 L1641.0,2711.2 L1643.2,2713.2 L1645.4,2715.3 L1647.6,2717.4 L1649.8,2719.7 L1652.0,2722.0 L1654.2,2724.4 L1656.4,2726.9 L1658.6,2729.5 L1660.8,2732.1 L1663.0,2734.8 L1665.2,2737.6 L1667.4,2740.4 L1669.6,2743.4 L1671.8,2746.4 L1674.0,2749.4 L1676.2,2752.6 L1678.3,2755.8 L1680.5,2759.0 L1682.7,2762.3 L1684.9,2765.7 L1687.1,2769.2 L1689.3,2772.7 L1691.5,2776.3 L1693.7,2779.9 L1695.9,2783.6 L1698.1,2787.4 L1700.3,2791.2 L1702.5,2795.1 L1704.7,2799.0 L1706.9,2803.0 L1709.1,2807.0 L1711.3,2811.1 L1713.5,2815.2 L1715.7,2819.4 L1717.9,2823.6 L1720.1,2827.8 L1722.3,2832.2 L1724.5,2836.5 L1726.7,2840.9 L1728.9,2845.3 L1731.1,2849.8 L1733.3,2854.3 L1735.5,2858.9 L1737.7,2863.5 L1739.9,2868.1 L1742.1,2872.7 L1744.3,2877.4 L1746.5,2882.1 L1748.7,2886.9 L1750.9,2891.6 L1753.1,2896.4 L1755.3,2901.2 L1757.5,2906.1 L1759.7,2910.9 L1761.9,2915.8 L1764.1,2920.7 L1766.3,2925.7 L1768.5,2930.6 L1770.7,2935.6 L1772.9,2940.5 L1775.1,2945.5 L1777.3,2950.5 L1779.5,2955.5 L1781.7,2960.5 L1783.9,2965.6 L1786.1,2970.6 L1788.3,2975.6 L1790.5,2980.7 L1792.7,2985.7 L1794.9,2990.8 L1797.1,2995.8 L1799.3,3000.9 L1801.5,3006.0 L1803.7,3011.0 L1805.9,3016.1 L1808.1,3021.1 L1810.3,3026.1 L1812.5,3031.2 L1814.7,3036.2 L1816.9,3041.2 L1819.1,3046.2 L1821.3,3051.2 L1823.5,3056.2 L1825.7,3061.2 L1827.9,3066.1 L1830.1,3071.1 L1832.3,3076.0 L1834.5,3080.9 L1836.7,3085.8 L1838.9,3090.7 L1841.1,3095.6 L1843.3,3100.4 L1845.5,3105.2 L1847.7,3110.0 L1849.9,3114.8 L1852.1,3119.6 L1854.2,3124.3 L1856.4,3129.0 L1858.6,3133.7 L1860.8,3138.3 L1863.0,3143.0 L1865.2,3147.6 L1867.4,3152.1 L1869.6,3156.7 L1871.8,3161.2 L1874.0,3165.7 L1876.2,3170.1 L1878.4,3174.6 L1880.6,3179.0 L1882.8,3183.3 L1885.0,3187.7 L1887.2,3191.9 L1889.4,3196.2 L1891.6,3200.4 L1893.8,3204.6 L1896.0,3208.8 L1898.2,3212.9 L1900.4,3217.0 L1902.6,3221.1 L1904.8,3225.1 L1907.0,3229.1 L1909.2,3233.0 L1911.4,3236.9 L1913.6,3240.8 L1915.8,3244.6 L1918.0,3248.4 L1920.2,3252.2 L1922.4,3255.9 L1924.6,3259.6 L1926.8,3263.2 L1929.0,3266.8 L1931.2,3270.4 L1933.4,3273.9 L1935.6,3277.4 L1937.8,3280.9 L1940.0,3284.3 L1942.2,3287.7 L1944.4,3291.0 L1946.6,3294.3 L1948.8,3297.5 L1951.0,3300.7 L1953.2,3303.9 L1955.4,3307.0 L1957.6,3310.1 L1959.8,3313.2 L1962.0,3316.2 L1964.2,3319.2 L1966.4,3322.1 L1968.6,3325.0 L1970.8,3327.9 L1973.0,3330.7 L1975.2,3333.5 L1977.4,3336.2 L1979.6,3338.9 L1981.8,3341.6 L1984.0,3344.2 L1986.2,3346.8 L1988.4,3349.4 L1990.6,3351.9 L1992.8,3354.4 L1995.0,3356.8 L1997.2,3359.2 L1999.4,3361.6 L2001.6,3363.9 L2003.8,3366.2 L2006.0,3368.5 L2008.2,3370.7 L2010.4,3372.9 L2012.6,3375.0 L2014.8,3377.1 L2017.0,3379.2 L2019.2,3381.3 L2021.4,3383.3 L2023.6,3385.3 L2025.8,3387.2 L2028.0,3389.1 L2030.2,3391.0 L2032.3,3392.8 L2034.5,3394.7 L2036.7,3396.4 L2038.9,3398.2 L2041.1,3399.9 L2043.3,3401.6 L2045.5,3403.3 L2047.7,3404.9 L2049.9,3406.5 L2052.1,3408.0 L2054.3,3409.6 L2056.5,3411.1 L2058.7,3412.6 L2060.9,3414.0 L2063.1,3415.5 L2065.3,3416.9 L2067.5,3418.2 L2069.7,3419.6 L2071.9,3420.9 L2074.1,3422.2 L2076.3,3423.4 L2078.5,3424.7 L2080.7,3425.9 L2082.9,3427.1 L2085.1,3428.2 L2087.3,3429.4 L2089.5,3430.5 L2091.7,3431.6 L2093.9,3432.7 L2096.1,3433.7 L2098.3,3434.7 L2100.5,3435.7 L2102.7,3436.7 L2104.9,3437.7 L2107.1,3438.6 L2109.3,3439.6 L2111.5,3440.5 L2113.7,3441.3 L2115.9,3442.2 L2118.1,3443.0 L2120.3,3443.9 L2122.5,3444.7 L2124.7,3445.4 L2126.9,3446.2 L2129.1,3447.0 L2131.3,3447.7 L2133.5,3448.4 L2135.7,3449.1 L2137.9,3449.8 L2140.1,3450.4 L2142.3,3451.1 L2144.5,3451.7 L2146.7,3452.3 L2148.9,3452.9 L2151.1,3453.5 L2153.3,3454.1 L2155.5,3454.7 L2157.7,3455.2 L2159.9,3455.7 L2162.1,3456.3 L2164.3,3456.8 L2166.5,3457.3 L2168.7,3457.7 L2170.9,3458.2 L2173.1,3458.7 L2175.3,3459.1 L2177.5,3459.6 L2179.7,3460.0 L2181.9,3460.4 L2184.1,3460.8 L2186.3,3461.2 L2188.5,3461.6 L2190.7,3461.9 L2192.9,3462.3 L2195.1,3462.6 L2197.3,3463.0 L2199.5,3463.3 L2201.7,3463.6 L2203.9,3463.9 L2206.0,3464.3 L2208.2,3464.5 L2210.4,3464.8 L2212.6,3465.1 L2214.8,3465.4 L2217.0,3465.7 L2219.2,3465.9 L2221.4,3466.2 L2223.6,3466.4 L2225.8,3466.6 L2228.0,3466.9 L2230.2,3467.1 L2232.4,3467.3 L2234.6,3467.5 L2236.8,3467.7 L2239.0,3467.9 L2241.2,3468.1 L2243.4,3468.3 L2245.6,3468.5 L2247.8,3468.7 L2250.0,3468.8 L2252.2,3469.0 L2254.4,3469.2 L2256.6,3469.3 L2258.8,3469.5 L2261.0,3469.6 L2263.2,3469.7 L2265.4,3469.9 L2267.6,3470.0 L2269.8,3470.1 L2272.0,3470.3 L2274.2,3470.4 L2276.4,3470.5 L2278.6,3470.6 L2280.8,3470.7 L2283.0,3470.8 L2285.2,3470.9 L2287.4,3471.0 L2289.6,3471.1 L2291.8,3471.2 L2294.0,3471.3" fill="none" stroke="#ee1313" stroke-width="9"  stroke-linejoin="round"/>
</g>
<rect x="2671.8" y="2526.8" width="10.5" height="953.6" fill="#000"/>
<rect x="4431.7" y="2526.8" width="10.6" height="953.6" fill="#000"/>
<rect x="2671.8" y="2527.0" width="1770.5" height="8.2" fill="#000"/>
<rect x="2671.8" y="3471.6" width="1770.5" height="9.0" fill="#000"/>
<rect x="2759.8" y="3466.5" width="10.4" height="9.5" fill="#000"/>
<rect x="2759.8" y="2531.0" width="10.4" height="8.6" fill="#000"/>
<rect x="2847.8" y="3466.5" width="10.4" height="9.5" fill="#000"/>
<rect x="2847.8" y="2531.0" width="10.4" height="8.6" fill="#000"/>
<rect x="2935.8" y="3466.5" width="10.4" height="9.5" fill="#000"/>
<rect x="2935.8" y="2531.0" width="10.4" height="8.6" fill="#000"/>
<rect x="3023.8" y="3466.5" width="10.4" height="9.5" fill="#000"/>
<rect x="3023.8" y="2531.0" width="10.4" height="8.6" fill="#000"/>
<rect x="3111.8" y="3457.5" width="10.4" height="18.5" fill="#000"/>
<rect x="3111.8" y="2531.0" width="10.4" height="19.0" fill="#000"/>
<rect x="3199.8" y="3466.5" width="10.4" height="9.5" fill="#000"/>
<rect x="3199.8" y="2531.0" width="10.4" height="8.6" fill="#000"/>
<rect x="3287.8" y="3466.5" width="10.4" height="9.5" fill="#000"/>
<rect x="3287.8" y="2531.0" width="10.4" height="8.6" fill="#000"/>
<rect x="3375.8" y="3466.5" width="10.4" height="9.5" fill="#000"/>
<rect x="3375.8" y="2531.0" width="10.4" height="8.6" fill="#000"/>
<rect x="3463.8" y="3466.5" width="10.4" height="9.5" fill="#000"/>
<rect x="3463.8" y="2531.0" width="10.4" height="8.6" fill="#000"/>
<rect x="3551.8" y="3457.5" width="10.4" height="18.5" fill="#000"/>
<rect x="3551.8" y="2531.0" width="10.4" height="19.0" fill="#000"/>
<rect x="3639.8" y="3466.5" width="10.4" height="9.5" fill="#000"/>
<rect x="3639.8" y="2531.0" width="10.4" height="8.6" fill="#000"/>
<rect x="3727.8" y="3466.5" width="10.4" height="9.5" fill="#000"/>
<rect x="3727.8" y="2531.0" width="10.4" height="8.6" fill="#000"/>
<rect x="3815.8" y="3466.5" width="10.4" height="9.5" fill="#000"/>
<rect x="3815.8" y="2531.0" width="10.4" height="8.6" fill="#000"/>
<rect x="3903.8" y="3466.5" width="10.4" height="9.5" fill="#000"/>
<rect x="3903.8" y="2531.0" width="10.4" height="8.6" fill="#000"/>
<rect x="3991.8" y="3457.5" width="10.4" height="18.5" fill="#000"/>
<rect x="3991.8" y="2531.0" width="10.4" height="19.0" fill="#000"/>
<rect x="4079.8" y="3466.5" width="10.4" height="9.5" fill="#000"/>
<rect x="4079.8" y="2531.0" width="10.4" height="8.6" fill="#000"/>
<rect x="4167.8" y="3466.5" width="10.4" height="9.5" fill="#000"/>
<rect x="4167.8" y="2531.0" width="10.4" height="8.6" fill="#000"/>
<rect x="4255.8" y="3466.5" width="10.4" height="9.5" fill="#000"/>
<rect x="4255.8" y="2531.0" width="10.4" height="8.6" fill="#000"/>
<rect x="4343.8" y="3466.5" width="10.4" height="9.5" fill="#000"/>
<rect x="4343.8" y="2531.0" width="10.4" height="8.6" fill="#000"/>
<rect x="2677.0" y="3409.2" width="12.8" height="7.6" fill="#000"/>
<rect x="4422.8" y="3409.2" width="14.2" height="7.6" fill="#000"/>
<rect x="2677.0" y="3346.2" width="12.8" height="7.6" fill="#000"/>
<rect x="4422.8" y="3346.2" width="14.2" height="7.6" fill="#000"/>
<rect x="2677.0" y="3283.2" width="12.8" height="7.6" fill="#000"/>
<rect x="4422.8" y="3283.2" width="14.2" height="7.6" fill="#000"/>
<rect x="2677.0" y="3220.2" width="12.8" height="7.6" fill="#000"/>
<rect x="4422.8" y="3220.2" width="14.2" height="7.6" fill="#000"/>
<rect x="2677.0" y="3157.2" width="25.0" height="7.6" fill="#000"/>
<rect x="4410.3" y="3157.2" width="26.7" height="7.6" fill="#000"/>
<rect x="2677.0" y="3094.2" width="12.8" height="7.6" fill="#000"/>
<rect x="4422.8" y="3094.2" width="14.2" height="7.6" fill="#000"/>
<rect x="2677.0" y="3031.2" width="12.8" height="7.6" fill="#000"/>
<rect x="4422.8" y="3031.2" width="14.2" height="7.6" fill="#000"/>
<rect x="2677.0" y="2968.2" width="12.8" height="7.6" fill="#000"/>
<rect x="4422.8" y="2968.2" width="14.2" height="7.6" fill="#000"/>
<rect x="2677.0" y="2905.2" width="12.8" height="7.6" fill="#000"/>
<rect x="4422.8" y="2905.2" width="14.2" height="7.6" fill="#000"/>
<rect x="2677.0" y="2842.2" width="25.0" height="7.6" fill="#000"/>
<rect x="4410.3" y="2842.2" width="26.7" height="7.6" fill="#000"/>
<rect x="2677.0" y="2779.2" width="12.8" height="7.6" fill="#000"/>
<rect x="4422.8" y="2779.2" width="14.2" height="7.6" fill="#000"/>
<rect x="2677.0" y="2716.2" width="12.8" height="7.6" fill="#000"/>
<rect x="4422.8" y="2716.2" width="14.2" height="7.6" fill="#000"/>
<rect x="2677.0" y="2653.2" width="12.8" height="7.6" fill="#000"/>
<rect x="4422.8" y="2653.2" width="14.2" height="7.6" fill="#000"/>
<rect x="2677.0" y="2590.2" width="12.8" height="7.6" fill="#000"/>
<rect x="4422.8" y="2590.2" width="14.2" height="7.6" fill="#000"/>
<g clip-path="url(#cc)">
<path d="M2677.0,3442.4 L2679.2,3442.1 L2681.4,3441.8 L2683.6,3441.6 L2685.8,3441.3 L2688.0,3441.0 L2690.2,3440.7 L2692.4,3440.4 L2694.6,3440.1 L2696.8,3439.8 L2699.0,3439.5 L2701.2,3439.2 L2703.4,3438.9 L2705.6,3438.6 L2707.8,3438.3 L2710.0,3438.0 L2712.2,3437.7 L2714.4,3437.4 L2716.6,3437.0 L2718.8,3436.7 L2721.0,3436.4 L2723.2,3436.0 L2725.4,3435.7 L2727.6,3435.3 L2729.8,3435.0 L2732.0,3434.6 L2734.2,3434.3 L2736.4,3433.9 L2738.6,3433.5 L2740.8,3433.1 L2743.0,3432.7 L2745.2,3432.3 L2747.4,3431.9 L2749.6,3431.5 L2751.8,3431.1 L2754.0,3430.7 L2756.2,3430.3 L2758.4,3429.8 L2760.6,3429.4 L2762.8,3428.9 L2765.0,3428.4 L2767.2,3427.9 L2769.4,3427.4 L2771.6,3426.9 L2773.8,3426.4 L2776.0,3425.9 L2778.2,3425.3 L2780.4,3424.7 L2782.6,3424.1 L2784.8,3423.5 L2787.0,3422.9 L2789.2,3422.3 L2791.4,3421.6 L2793.6,3421.0 L2795.8,3420.3 L2798.0,3419.5 L2800.2,3418.8 L2802.4,3418.1 L2804.6,3417.3 L2806.8,3416.5 L2809.0,3415.7 L2811.2,3414.8 L2813.4,3414.0 L2815.6,3413.1 L2817.8,3412.2 L2820.0,3411.3 L2822.2,3410.4 L2824.4,3409.4 L2826.6,3408.4 L2828.8,3407.4 L2831.0,3406.4 L2833.2,3405.4 L2835.4,3404.3 L2837.6,3403.3 L2839.8,3402.2 L2842.0,3401.1 L2844.2,3399.9 L2846.4,3398.8 L2848.6,3397.6 L2850.8,3396.4 L2853.0,3395.2 L2855.2,3394.0 L2857.4,3392.7 L2859.6,3391.4 L2861.8,3390.1 L2864.0,3388.8 L2866.2,3387.4 L2868.4,3386.0 L2870.6,3384.6 L2872.8,3383.1 L2875.0,3381.6 L2877.2,3380.1 L2879.4,3378.5 L2881.6,3376.9 L2883.8,3375.3 L2886.0,3373.6 L2888.2,3371.9 L2890.4,3370.1 L2892.6,3368.3 L2894.8,3366.5 L2897.0,3364.6 L2899.2,3362.6 L2901.4,3360.7 L2903.6,3358.6 L2905.8,3356.6 L2908.0,3354.4 L2910.2,3352.3 L2912.4,3350.1 L2914.6,3347.8 L2916.8,3345.5 L2919.0,3343.1 L2921.2,3340.7 L2923.4,3338.3 L2925.6,3335.8 L2927.8,3333.2 L2930.0,3330.6 L2932.2,3328.0 L2934.4,3325.3 L2936.6,3322.5 L2938.8,3319.7 L2941.0,3316.9 L2943.2,3314.0 L2945.4,3311.0 L2947.6,3308.0 L2949.8,3304.9 L2952.0,3301.7 L2954.2,3298.5 L2956.4,3295.3 L2958.6,3292.0 L2960.8,3288.6 L2963.0,3285.1 L2965.2,3281.6 L2967.4,3278.1 L2969.6,3274.4 L2971.8,3270.7 L2974.0,3267.0 L2976.2,3263.2 L2978.4,3259.3 L2980.6,3255.3 L2982.8,3251.3 L2985.0,3247.2 L2987.2,3243.1 L2989.4,3238.9 L2991.6,3234.7 L2993.8,3230.3 L2996.0,3225.9 L2998.2,3221.5 L3000.4,3217.0 L3002.6,3212.4 L3004.8,3207.8 L3007.0,3203.1 L3009.2,3198.4 L3011.4,3193.5 L3013.6,3188.7 L3015.8,3183.8 L3018.0,3178.8 L3020.2,3173.8 L3022.4,3168.7 L3024.6,3163.6 L3026.8,3158.4 L3029.0,3153.2 L3031.2,3148.0 L3033.4,3142.7 L3035.6,3137.4 L3037.8,3132.0 L3040.0,3126.6 L3042.2,3121.1 L3044.4,3115.7 L3046.6,3110.1 L3048.8,3104.6 L3051.0,3099.0 L3053.2,3093.4 L3055.4,3087.8 L3057.6,3082.1 L3059.8,3076.4 L3062.0,3070.7 L3064.2,3064.9 L3066.4,3059.1 L3068.6,3053.3 L3070.8,3047.5 L3073.0,3041.6 L3075.2,3035.7 L3077.4,3029.7 L3079.6,3023.8 L3081.8,3017.8 L3084.0,3011.8 L3086.2,3005.8 L3088.4,2999.7 L3090.6,2993.6 L3092.8,2987.5 L3095.0,2981.4 L3097.2,2975.3 L3099.4,2969.2 L3101.6,2963.0 L3103.8,2956.9 L3106.0,2950.7 L3108.2,2944.5 L3110.4,2938.4 L3112.6,2932.2 L3114.8,2926.0 L3117.0,2919.9 L3119.2,2913.8 L3121.4,2907.6 L3123.6,2901.5 L3125.8,2895.4 L3128.0,2889.4 L3130.2,2883.3 L3132.4,2877.3 L3134.6,2871.3 L3136.8,2865.3 L3139.0,2859.4 L3141.2,2853.5 L3143.4,2847.7 L3145.6,2841.9 L3147.8,2836.1 L3150.0,2830.4 L3152.2,2824.7 L3154.4,2819.1 L3156.6,2813.5 L3158.8,2807.9 L3161.0,2802.5 L3163.2,2797.0 L3165.4,2791.7 L3167.6,2786.3 L3169.8,2781.0 L3172.0,2775.8 L3174.2,2770.7 L3176.4,2765.6 L3178.6,2760.5 L3180.8,2755.5 L3183.0,2750.6 L3185.2,2745.7 L3187.4,2740.9 L3189.6,2736.1 L3191.8,2731.4 L3194.0,2726.8 L3196.2,2722.2 L3198.4,2717.7 L3200.6,2713.2 L3202.8,2708.9 L3205.0,2704.5 L3207.2,2700.3 L3209.4,2696.1 L3211.6,2691.9 L3213.8,2687.9 L3216.0,2683.9 L3218.2,2680.0 L3220.4,2676.1 L3222.6,2672.4 L3224.8,2668.6 L3227.0,2665.0 L3229.2,2661.5 L3231.4,2658.0 L3233.6,2654.6 L3235.8,2651.2 L3238.0,2648.0 L3240.2,2644.8 L3242.4,2641.7 L3244.6,2638.7 L3246.8,2635.7 L3249.0,2632.8 L3251.2,2630.0 L3253.4,2627.3 L3255.6,2624.7 L3257.8,2622.1 L3260.0,2619.6 L3262.2,2617.2 L3264.4,2614.9 L3266.6,2612.6 L3268.8,2610.4 L3271.0,2608.3 L3273.2,2606.3 L3275.4,2604.3 L3277.6,2602.5 L3279.8,2600.6 L3282.0,2598.9 L3284.2,2597.3 L3286.4,2595.7 L3288.6,2594.2 L3290.8,2592.7 L3293.0,2591.4 L3295.2,2590.1 L3297.4,2588.9 L3299.6,2587.7 L3301.8,2586.6 L3304.0,2585.6 L3306.2,2584.7 L3308.4,2583.8 L3310.6,2583.0 L3312.8,2582.2 L3315.0,2581.5 L3317.2,2580.9 L3319.4,2580.3 L3321.6,2579.8 L3323.8,2579.4 L3326.0,2579.0 L3328.2,2578.6 L3330.4,2578.3 L3332.6,2578.1 L3334.8,2577.9 L3337.0,2577.8 L3339.2,2577.7 L3341.4,2577.7 L3343.6,2577.7 L3345.8,2577.7 L3348.0,2577.8 L3350.2,2577.9 L3352.4,2578.1 L3354.6,2578.2 L3356.8,2578.4 L3359.0,2578.6 L3361.2,2578.9 L3363.4,2579.1 L3365.6,2579.4 L3367.8,2579.6 L3370.0,2579.9 L3372.2,2580.2 L3374.4,2580.5 L3376.6,2580.8 L3378.8,2581.1 L3381.0,2581.3 L3383.2,2581.6 L3385.4,2581.9 L3387.6,2582.2 L3389.8,2582.4 L3392.0,2582.7 L3394.2,2582.9 L3396.4,2583.1 L3398.6,2583.3 L3400.8,2583.5 L3403.0,2583.6 L3405.2,2583.8 L3407.4,2583.9 L3409.6,2584.0 L3411.8,2584.1 L3414.0,2584.1 L3416.2,2584.2 L3418.4,2584.2 L3420.6,2584.1 L3422.8,2584.1 L3425.0,2584.0 L3427.2,2583.9 L3429.4,2583.7 L3431.6,2583.6 L3433.8,2583.4 L3436.0,2583.2 L3438.2,2582.9 L3440.4,2582.7 L3442.6,2582.4 L3444.8,2582.1 L3447.0,2581.8 L3449.2,2581.5 L3451.4,2581.2 L3453.6,2580.8 L3455.8,2580.5 L3458.0,2580.1 L3460.2,2579.8 L3462.4,2579.5 L3464.6,2579.1 L3466.8,2578.8 L3469.0,2578.5 L3471.2,2578.1 L3473.4,2577.8 L3475.6,2577.5 L3477.8,2577.3 L3480.0,2577.0 L3482.2,2576.8 L3484.4,2576.5 L3486.6,2576.3 L3488.8,2576.2 L3491.0,2576.0 L3493.2,2575.9 L3495.4,2575.8 L3497.6,2575.8 L3499.8,2575.7 L3502.0,2575.8 L3504.2,2575.8 L3506.4,2575.9 L3508.6,2576.1 L3510.8,2576.3 L3513.0,2576.5 L3515.2,2576.8 L3517.4,2577.2 L3519.6,2577.6 L3521.8,2578.1 L3524.0,2578.6 L3526.2,2579.2 L3528.4,2579.9 L3530.6,2580.6 L3532.8,2581.4 L3535.0,2582.3 L3537.2,2583.2 L3539.4,2584.2 L3541.6,2585.3 L3543.8,2586.5 L3546.0,2587.7 L3548.2,2589.1 L3550.4,2590.5 L3552.6,2592.0 L3554.8,2593.6 L3557.0,2595.3 L3559.2,2597.1 L3561.4,2599.0 L3563.6,2600.9 L3565.8,2603.0 L3568.0,2605.2 L3570.2,2607.5 L3572.4,2610.0 L3574.6,2612.5 L3576.8,2615.2 L3579.0,2617.9 L3581.2,2620.8 L3583.4,2623.9 L3585.6,2627.0 L3587.8,2630.3 L3590.0,2633.7 L3592.2,2637.3 L3594.4,2641.0 L3596.6,2644.8 L3598.8,2648.8 L3601.0,2652.9 L3603.2,2657.2 L3605.4,2661.6 L3607.6,2666.1 L3609.8,2670.8 L3612.0,2675.6 L3614.2,2680.5 L3616.4,2685.6 L3618.6,2690.8 L3620.8,2696.2 L3623.0,2701.7 L3625.2,2707.2 L3627.4,2713.0 L3629.6,2718.8 L3631.8,2724.7 L3634.0,2730.8 L3636.2,2736.9 L3638.4,2743.2 L3640.6,2749.5 L3642.8,2755.9 L3645.0,2762.5 L3647.2,2769.1 L3649.4,2775.8 L3651.6,2782.6 L3653.8,2789.4 L3656.0,2796.4 L3658.2,2803.4 L3660.4,2810.5 L3662.6,2817.7 L3664.8,2824.9 L3667.0,2832.2 L3669.2,2839.5 L3671.4,2847.0 L3673.6,2854.4 L3675.8,2862.0 L3678.0,2869.5 L3680.2,2877.2 L3682.4,2884.8 L3684.6,2892.5 L3686.8,2900.2 L3689.0,2908.0 L3691.2,2915.8 L3693.4,2923.6 L3695.6,2931.4 L3697.8,2939.2 L3700.0,2947.1 L3702.2,2954.9 L3704.4,2962.7 L3706.6,2970.5 L3708.8,2978.3 L3711.0,2986.1 L3713.2,2993.8 L3715.4,3001.5 L3717.6,3009.2 L3719.8,3016.8 L3722.0,3024.4 L3724.2,3031.9 L3726.4,3039.3 L3728.6,3046.7 L3730.8,3054.1 L3733.0,3061.3 L3735.2,3068.5 L3737.4,3075.6 L3739.6,3082.7 L3741.8,3089.6 L3744.0,3096.5 L3746.2,3103.3 L3748.4,3110.0 L3750.6,3116.7 L3752.8,3123.2 L3755.0,3129.6 L3757.2,3136.0 L3759.4,3142.3 L3761.6,3148.4 L3763.8,3154.5 L3766.0,3160.5 L3768.2,3166.4 L3770.4,3172.2 L3772.6,3177.9 L3774.8,3183.5 L3777.0,3189.0 L3779.2,3194.4 L3781.4,3199.8 L3783.6,3205.0 L3785.8,3210.1 L3788.0,3215.1 L3790.2,3220.0 L3792.4,3224.9 L3794.6,3229.6 L3796.8,3234.2 L3799.0,3238.7 L3801.2,3243.2 L3803.4,3247.5 L3805.6,3251.7 L3807.8,3255.8 L3810.0,3259.9 L3812.2,3263.8 L3814.4,3267.6 L3816.6,3271.4 L3818.8,3275.0 L3821.0,3278.6 L3823.2,3282.1 L3825.4,3285.5 L3827.6,3288.8 L3829.8,3292.0 L3832.0,3295.1 L3834.2,3298.1 L3836.4,3301.1 L3838.6,3304.0 L3840.8,3306.8 L3843.0,3309.5 L3845.2,3312.2 L3847.4,3314.7 L3849.6,3317.3 L3851.8,3319.7 L3854.0,3322.1 L3856.2,3324.4 L3858.4,3326.7 L3860.6,3328.9 L3862.8,3331.1 L3865.0,3333.2 L3867.2,3335.3 L3869.4,3337.3 L3871.6,3339.2 L3873.8,3341.1 L3876.0,3343.0 L3878.2,3344.8 L3880.4,3346.6 L3882.6,3348.4 L3884.8,3350.1 L3887.0,3351.8 L3889.2,3353.4 L3891.4,3355.1 L3893.6,3356.6 L3895.8,3358.2 L3898.0,3359.7 L3900.2,3361.2 L3902.4,3362.7 L3904.6,3364.1 L3906.8,3365.5 L3909.0,3366.9 L3911.2,3368.3 L3913.4,3369.6 L3915.6,3370.9 L3917.8,3372.2 L3920.0,3373.5 L3922.2,3374.7 L3924.4,3375.9 L3926.6,3377.1 L3928.8,3378.3 L3931.0,3379.4 L3933.2,3380.6 L3935.4,3381.7 L3937.6,3382.8 L3939.8,3383.8 L3942.0,3384.9 L3944.2,3385.9 L3946.4,3386.9 L3948.6,3387.9 L3950.8,3388.8 L3953.0,3389.8 L3955.2,3390.7 L3957.4,3391.6 L3959.6,3392.5 L3961.8,3393.3 L3964.0,3394.2 L3966.2,3395.0 L3968.4,3395.8 L3970.6,3396.6 L3972.8,3397.4 L3975.0,3398.1 L3977.2,3398.8 L3979.4,3399.6 L3981.6,3400.3 L3983.8,3400.9 L3986.0,3401.6 L3988.2,3402.2 L3990.4,3402.9 L3992.6,3403.5 L3994.8,3404.1 L3997.0,3404.6 L3999.2,3405.2 L4001.4,3405.8 L4003.6,3406.3 L4005.8,3406.8 L4008.0,3407.3 L4010.2,3407.8 L4012.4,3408.3 L4014.6,3408.7 L4016.8,3409.2 L4019.0,3409.6 L4021.2,3410.1 L4023.4,3410.5 L4025.6,3410.9 L4027.8,3411.3 L4030.0,3411.7 L4032.2,3412.1 L4034.4,3412.4 L4036.6,3412.8 L4038.8,3413.1 L4041.0,3413.4 L4043.2,3413.8 L4045.4,3414.1 L4047.6,3414.4 L4049.8,3414.7 L4052.0,3414.9 L4054.2,3415.2 L4056.4,3415.5 L4058.6,3415.7 L4060.8,3416.0 L4063.0,3416.2 L4065.2,3416.4 L4067.4,3416.6 L4069.6,3416.8 L4071.8,3417.0 L4074.0,3417.2 L4076.2,3417.4 L4078.4,3417.5 L4080.6,3417.7 L4082.8,3417.9 L4085.0,3418.0 L4087.2,3418.1 L4089.4,3418.3 L4091.6,3418.4 L4093.8,3418.5 L4096.0,3418.7 L4098.2,3418.8 L4100.4,3418.9 L4102.6,3419.0 L4104.8,3419.1 L4107.0,3419.2 L4109.2,3419.2 L4111.4,3419.3 L4113.6,3419.4 L4115.8,3419.5 L4118.0,3419.5 L4120.2,3419.6 L4122.4,3419.6 L4124.6,3419.7 L4126.8,3419.7 L4129.0,3419.8 L4131.2,3419.8 L4133.4,3419.8 L4135.6,3419.8 L4137.8,3419.9 L4140.0,3419.9 L4142.2,3419.9 L4144.4,3419.9 L4146.6,3419.9 L4148.8,3419.9 L4151.0,3419.9 L4153.2,3419.9 L4155.4,3419.9 L4157.6,3419.9 L4159.8,3419.9 L4162.0,3419.9 L4164.2,3419.9 L4166.4,3419.8 L4168.6,3419.8 L4170.8,3419.8 L4173.0,3419.8 L4175.2,3419.8 L4177.4,3419.8 L4179.6,3419.8 L4181.8,3419.7 L4184.0,3419.7 L4186.2,3419.7 L4188.4,3419.7 L4190.6,3419.7 L4192.8,3419.7 L4195.0,3419.7 L4197.2,3419.6 L4199.4,3419.6 L4201.6,3419.6 L4203.8,3419.6 L4206.0,3419.6 L4208.2,3419.6 L4210.4,3419.6 L4212.6,3419.6 L4214.8,3419.6 L4217.0,3419.7 L4219.2,3419.7 L4221.4,3419.7 L4223.6,3419.7 L4225.8,3419.8 L4228.0,3419.8 L4230.2,3419.9 L4232.4,3419.9 L4234.6,3420.0 L4236.8,3420.0 L4239.0,3420.1 L4241.2,3420.2 L4243.4,3420.3 L4245.6,3420.4 L4247.8,3420.5 L4250.0,3420.6 L4252.2,3420.8 L4254.4,3420.9 L4256.6,3421.0 L4258.8,3421.2 L4261.0,3421.4 L4263.2,3421.5 L4265.4,3421.7 L4267.6,3421.9 L4269.8,3422.1 L4272.0,3422.3 L4274.2,3422.5 L4276.4,3422.7 L4278.6,3422.9 L4280.8,3423.1 L4283.0,3423.3 L4285.2,3423.5 L4287.4,3423.7 L4289.6,3424.0 L4291.8,3424.2 L4294.0,3424.4 L4296.2,3424.7 L4298.4,3424.9 L4300.6,3425.1 L4302.8,3425.4 L4305.0,3425.6 L4307.2,3425.9 L4309.4,3426.1 L4311.6,3426.3 L4313.8,3426.6 L4316.0,3426.8 L4318.2,3427.0 L4320.4,3427.3 L4322.6,3427.5 L4324.8,3427.8 L4327.0,3428.0 L4329.2,3428.2 L4331.4,3428.5 L4333.6,3428.7 L4335.8,3429.0 L4338.0,3429.2 L4340.2,3429.5 L4342.4,3429.7 L4344.6,3429.9 L4346.8,3430.2 L4349.0,3430.4 L4351.2,3430.7 L4353.4,3430.9 L4355.6,3431.2 L4357.8,3431.4 L4360.0,3431.7 L4362.2,3431.9 L4364.4,3432.2 L4366.6,3432.5 L4368.8,3432.7 L4371.0,3433.0 L4373.2,3433.3 L4375.4,3433.5 L4377.6,3433.8 L4379.8,3434.1 L4382.0,3434.3 L4384.2,3434.6 L4386.4,3434.9 L4388.6,3435.2 L4390.8,3435.4 L4393.0,3435.7 L4395.2,3436.0 L4397.4,3436.3 L4399.6,3436.6 L4401.8,3436.8 L4404.0,3437.1 L4406.2,3437.4 L4408.4,3437.7 L4410.6,3438.0 L4412.8,3438.3 L4415.0,3438.6 L4417.2,3438.9 L4419.4,3439.1 L4421.6,3439.4 L4423.8,3439.7 L4426.0,3440.0 L4428.2,3440.3 L4430.4,3440.6 L4432.6,3440.9 L4434.8,3441.2 L4437.0,3441.5" fill="none" stroke="#0b0bdc" stroke-width="10.5" stroke-dasharray="40 42.5" stroke-dashoffset="0" stroke-linejoin="round"/>
<path d="M2677.0,3441.5 L2679.2,3441.2 L2681.4,3440.9 L2683.6,3440.6 L2685.8,3440.3 L2688.0,3440.0 L2690.2,3439.7 L2692.4,3439.4 L2694.6,3439.1 L2696.8,3438.9 L2699.0,3438.6 L2701.2,3438.3 L2703.4,3438.0 L2705.6,3437.7 L2707.8,3437.4 L2710.0,3437.1 L2712.2,3436.8 L2714.4,3436.6 L2716.6,3436.3 L2718.8,3436.0 L2721.0,3435.7 L2723.2,3435.4 L2725.4,3435.2 L2727.6,3434.9 L2729.8,3434.6 L2732.0,3434.3 L2734.2,3434.1 L2736.4,3433.8 L2738.6,3433.5 L2740.8,3433.3 L2743.0,3433.0 L2745.2,3432.7 L2747.4,3432.5 L2749.6,3432.2 L2751.8,3431.9 L2754.0,3431.7 L2756.2,3431.4 L2758.4,3431.2 L2760.6,3430.9 L2762.8,3430.7 L2765.0,3430.4 L2767.2,3430.2 L2769.4,3429.9 L2771.6,3429.7 L2773.8,3429.5 L2776.0,3429.2 L2778.2,3429.0 L2780.4,3428.7 L2782.6,3428.5 L2784.8,3428.2 L2787.0,3428.0 L2789.2,3427.8 L2791.4,3427.5 L2793.6,3427.3 L2795.8,3427.0 L2798.0,3426.8 L2800.2,3426.6 L2802.4,3426.3 L2804.6,3426.1 L2806.8,3425.9 L2809.0,3425.6 L2811.2,3425.4 L2813.4,3425.1 L2815.6,3424.9 L2817.8,3424.7 L2820.0,3424.4 L2822.2,3424.2 L2824.4,3424.0 L2826.6,3423.7 L2828.8,3423.5 L2831.0,3423.3 L2833.2,3423.1 L2835.4,3422.9 L2837.6,3422.7 L2839.8,3422.5 L2842.0,3422.3 L2844.2,3422.1 L2846.4,3421.9 L2848.6,3421.7 L2850.8,3421.5 L2853.0,3421.4 L2855.2,3421.2 L2857.4,3421.0 L2859.6,3420.9 L2861.8,3420.8 L2864.0,3420.6 L2866.2,3420.5 L2868.4,3420.4 L2870.6,3420.3 L2872.8,3420.2 L2875.0,3420.1 L2877.2,3420.0 L2879.4,3420.0 L2881.6,3419.9 L2883.8,3419.9 L2886.0,3419.8 L2888.2,3419.8 L2890.4,3419.7 L2892.6,3419.7 L2894.8,3419.7 L2897.0,3419.7 L2899.2,3419.6 L2901.4,3419.6 L2903.6,3419.6 L2905.8,3419.6 L2908.0,3419.6 L2910.2,3419.6 L2912.4,3419.6 L2914.6,3419.6 L2916.8,3419.6 L2919.0,3419.7 L2921.2,3419.7 L2923.4,3419.7 L2925.6,3419.7 L2927.8,3419.7 L2930.0,3419.7 L2932.2,3419.7 L2934.4,3419.8 L2936.6,3419.8 L2938.8,3419.8 L2941.0,3419.8 L2943.2,3419.8 L2945.4,3419.8 L2947.6,3419.8 L2949.8,3419.9 L2952.0,3419.9 L2954.2,3419.9 L2956.4,3419.9 L2958.6,3419.9 L2960.8,3419.9 L2963.0,3419.9 L2965.2,3419.9 L2967.4,3419.9 L2969.6,3419.9 L2971.8,3419.9 L2974.0,3419.9 L2976.2,3419.9 L2978.4,3419.8 L2980.6,3419.8 L2982.8,3419.8 L2985.0,3419.8 L2987.2,3419.7 L2989.4,3419.7 L2991.6,3419.6 L2993.8,3419.6 L2996.0,3419.5 L2998.2,3419.5 L3000.4,3419.4 L3002.6,3419.3 L3004.8,3419.2 L3007.0,3419.2 L3009.2,3419.1 L3011.4,3419.0 L3013.6,3418.9 L3015.8,3418.8 L3018.0,3418.7 L3020.2,3418.5 L3022.4,3418.4 L3024.6,3418.3 L3026.8,3418.1 L3029.0,3418.0 L3031.2,3417.9 L3033.4,3417.7 L3035.6,3417.5 L3037.8,3417.4 L3040.0,3417.2 L3042.2,3417.0 L3044.4,3416.8 L3046.6,3416.6 L3048.8,3416.4 L3051.0,3416.2 L3053.2,3416.0 L3055.4,3415.7 L3057.6,3415.5 L3059.8,3415.2 L3062.0,3414.9 L3064.2,3414.7 L3066.4,3414.4 L3068.6,3414.1 L3070.8,3413.8 L3073.0,3413.4 L3075.2,3413.1 L3077.4,3412.8 L3079.6,3412.4 L3081.8,3412.1 L3084.0,3411.7 L3086.2,3411.3 L3088.4,3410.9 L3090.6,3410.5 L3092.8,3410.1 L3095.0,3409.6 L3097.2,3409.2 L3099.4,3408.7 L3101.6,3408.3 L3103.8,3407.8 L3106.0,3407.3 L3108.2,3406.8 L3110.4,3406.3 L3112.6,3405.8 L3114.8,3405.2 L3117.0,3404.6 L3119.2,3404.1 L3121.4,3403.5 L3123.6,3402.9 L3125.8,3402.2 L3128.0,3401.6 L3130.2,3400.9 L3132.4,3400.3 L3134.6,3399.6 L3136.8,3398.8 L3139.0,3398.1 L3141.2,3397.4 L3143.4,3396.6 L3145.6,3395.8 L3147.8,3395.0 L3150.0,3394.2 L3152.2,3393.3 L3154.4,3392.5 L3156.6,3391.6 L3158.8,3390.7 L3161.0,3389.8 L3163.2,3388.8 L3165.4,3387.9 L3167.6,3386.9 L3169.8,3385.9 L3172.0,3384.9 L3174.2,3383.8 L3176.4,3382.8 L3178.6,3381.7 L3180.8,3380.6 L3183.0,3379.4 L3185.2,3378.3 L3187.4,3377.1 L3189.6,3375.9 L3191.8,3374.7 L3194.0,3373.5 L3196.2,3372.2 L3198.4,3370.9 L3200.6,3369.6 L3202.8,3368.3 L3205.0,3366.9 L3207.2,3365.5 L3209.4,3364.1 L3211.6,3362.7 L3213.8,3361.2 L3216.0,3359.7 L3218.2,3358.2 L3220.4,3356.6 L3222.6,3355.1 L3224.8,3353.4 L3227.0,3351.8 L3229.2,3350.1 L3231.4,3348.4 L3233.6,3346.6 L3235.8,3344.8 L3238.0,3343.0 L3240.2,3341.1 L3242.4,3339.2 L3244.6,3337.3 L3246.8,3335.3 L3249.0,3333.2 L3251.2,3331.1 L3253.4,3328.9 L3255.6,3326.7 L3257.8,3324.4 L3260.0,3322.1 L3262.2,3319.7 L3264.4,3317.3 L3266.6,3314.7 L3268.8,3312.2 L3271.0,3309.5 L3273.2,3306.8 L3275.4,3304.0 L3277.6,3301.1 L3279.8,3298.1 L3282.0,3295.1 L3284.2,3292.0 L3286.4,3288.8 L3288.6,3285.5 L3290.8,3282.1 L3293.0,3278.6 L3295.2,3275.0 L3297.4,3271.4 L3299.6,3267.6 L3301.8,3263.8 L3304.0,3259.9 L3306.2,3255.8 L3308.4,3251.7 L3310.6,3247.5 L3312.8,3243.2 L3315.0,3238.7 L3317.2,3234.2 L3319.4,3229.6 L3321.6,3224.9 L3323.8,3220.0 L3326.0,3215.1 L3328.2,3210.1 L3330.4,3205.0 L3332.6,3199.8 L3334.8,3194.4 L3337.0,3189.0 L3339.2,3183.5 L3341.4,3177.9 L3343.6,3172.2 L3345.8,3166.4 L3348.0,3160.5 L3350.2,3154.5 L3352.4,3148.4 L3354.6,3142.3 L3356.8,3136.0 L3359.0,3129.6 L3361.2,3123.2 L3363.4,3116.7 L3365.6,3110.0 L3367.8,3103.3 L3370.0,3096.5 L3372.2,3089.6 L3374.4,3082.7 L3376.6,3075.6 L3378.8,3068.5 L3381.0,3061.3 L3383.2,3054.1 L3385.4,3046.7 L3387.6,3039.3 L3389.8,3031.9 L3392.0,3024.4 L3394.2,3016.8 L3396.4,3009.2 L3398.6,3001.5 L3400.8,2993.8 L3403.0,2986.1 L3405.2,2978.3 L3407.4,2970.5 L3409.6,2962.7 L3411.8,2954.9 L3414.0,2947.1 L3416.2,2939.2 L3418.4,2931.4 L3420.6,2923.6 L3422.8,2915.8 L3425.0,2908.0 L3427.2,2900.2 L3429.4,2892.5 L3431.6,2884.8 L3433.8,2877.2 L3436.0,2869.5 L3438.2,2862.0 L3440.4,2854.4 L3442.6,2847.0 L3444.8,2839.5 L3447.0,2832.2 L3449.2,2824.9 L3451.4,2817.7 L3453.6,2810.5 L3455.8,2803.4 L3458.0,2796.4 L3460.2,2789.4 L3462.4,2782.6 L3464.6,2775.8 L3466.8,2769.1 L3469.0,2762.5 L3471.2,2755.9 L3473.4,2749.5 L3475.6,2743.2 L3477.8,2736.9 L3480.0,2730.8 L3482.2,2724.7 L3484.4,2718.8 L3486.6,2713.0 L3488.8,2707.2 L3491.0,2701.7 L3493.2,2696.2 L3495.4,2690.8 L3497.6,2685.6 L3499.8,2680.5 L3502.0,2675.6 L3504.2,2670.8 L3506.4,2666.1 L3508.6,2661.6 L3510.8,2657.2 L3513.0,2652.9 L3515.2,2648.8 L3517.4,2644.8 L3519.6,2641.0 L3521.8,2637.3 L3524.0,2633.7 L3526.2,2630.3 L3528.4,2627.0 L3530.6,2623.9 L3532.8,2620.8 L3535.0,2617.9 L3537.2,2615.2 L3539.4,2612.5 L3541.6,2610.0 L3543.8,2607.5 L3546.0,2605.2 L3548.2,2603.0 L3550.4,2600.9 L3552.6,2599.0 L3554.8,2597.1 L3557.0,2595.3 L3559.2,2593.6 L3561.4,2592.0 L3563.6,2590.5 L3565.8,2589.1 L3568.0,2587.7 L3570.2,2586.5 L3572.4,2585.3 L3574.6,2584.2 L3576.8,2583.2 L3579.0,2582.3 L3581.2,2581.4 L3583.4,2580.6 L3585.6,2579.9 L3587.8,2579.2 L3590.0,2578.6 L3592.2,2578.1 L3594.4,2577.6 L3596.6,2577.2 L3598.8,2576.8 L3601.0,2576.5 L3603.2,2576.3 L3605.4,2576.1 L3607.6,2575.9 L3609.8,2575.8 L3612.0,2575.8 L3614.2,2575.7 L3616.4,2575.8 L3618.6,2575.8 L3620.8,2575.9 L3623.0,2576.0 L3625.2,2576.2 L3627.4,2576.3 L3629.6,2576.5 L3631.8,2576.8 L3634.0,2577.0 L3636.2,2577.3 L3638.4,2577.5 L3640.6,2577.8 L3642.8,2578.1 L3645.0,2578.5 L3647.2,2578.8 L3649.4,2579.1 L3651.6,2579.5 L3653.8,2579.8 L3656.0,2580.1 L3658.2,2580.5 L3660.4,2580.8 L3662.6,2581.2 L3664.8,2581.5 L3667.0,2581.8 L3669.2,2582.1 L3671.4,2582.4 L3673.6,2582.7 L3675.8,2582.9 L3678.0,2583.2 L3680.2,2583.4 L3682.4,2583.6 L3684.6,2583.7 L3686.8,2583.9 L3689.0,2584.0 L3691.2,2584.1 L3693.4,2584.1 L3695.6,2584.2 L3697.8,2584.2 L3700.0,2584.1 L3702.2,2584.1 L3704.4,2584.0 L3706.6,2583.9 L3708.8,2583.8 L3711.0,2583.6 L3713.2,2583.5 L3715.4,2583.3 L3717.6,2583.1 L3719.8,2582.9 L3722.0,2582.7 L3724.2,2582.4 L3726.4,2582.2 L3728.6,2581.9 L3730.8,2581.6 L3733.0,2581.3 L3735.2,2581.1 L3737.4,2580.8 L3739.6,2580.5 L3741.8,2580.2 L3744.0,2579.9 L3746.2,2579.6 L3748.4,2579.4 L3750.6,2579.1 L3752.8,2578.9 L3755.0,2578.6 L3757.2,2578.4 L3759.4,2578.2 L3761.6,2578.1 L3763.8,2577.9 L3766.0,2577.8 L3768.2,2577.7 L3770.4,2577.7 L3772.6,2577.7 L3774.8,2577.7 L3777.0,2577.8 L3779.2,2577.9 L3781.4,2578.1 L3783.6,2578.3 L3785.8,2578.6 L3788.0,2579.0 L3790.2,2579.4 L3792.4,2579.8 L3794.6,2580.3 L3796.8,2580.9 L3799.0,2581.5 L3801.2,2582.2 L3803.4,2583.0 L3805.6,2583.8 L3807.8,2584.7 L3810.0,2585.6 L3812.2,2586.6 L3814.4,2587.7 L3816.6,2588.9 L3818.8,2590.1 L3821.0,2591.4 L3823.2,2592.7 L3825.4,2594.2 L3827.6,2595.7 L3829.8,2597.3 L3832.0,2598.9 L3834.2,2600.6 L3836.4,2602.5 L3838.6,2604.3 L3840.8,2606.3 L3843.0,2608.3 L3845.2,2610.4 L3847.4,2612.6 L3849.6,2614.9 L3851.8,2617.2 L3854.0,2619.6 L3856.2,2622.1 L3858.4,2624.7 L3860.6,2627.3 L3862.8,2630.0 L3865.0,2632.8 L3867.2,2635.7 L3869.4,2638.7 L3871.6,2641.7 L3873.8,2644.8 L3876.0,2648.0 L3878.2,2651.2 L3880.4,2654.6 L3882.6,2658.0 L3884.8,2661.5 L3887.0,2665.0 L3889.2,2668.6 L3891.4,2672.4 L3893.6,2676.1 L3895.8,2680.0 L3898.0,2683.9 L3900.2,2687.9 L3902.4,2691.9 L3904.6,2696.1 L3906.8,2700.3 L3909.0,2704.5 L3911.2,2708.9 L3913.4,2713.2 L3915.6,2717.7 L3917.8,2722.2 L3920.0,2726.8 L3922.2,2731.4 L3924.4,2736.1 L3926.6,2740.9 L3928.8,2745.7 L3931.0,2750.6 L3933.2,2755.5 L3935.4,2760.5 L3937.6,2765.6 L3939.8,2770.7 L3942.0,2775.8 L3944.2,2781.0 L3946.4,2786.3 L3948.6,2791.7 L3950.8,2797.0 L3953.0,2802.5 L3955.2,2807.9 L3957.4,2813.5 L3959.6,2819.1 L3961.8,2824.7 L3964.0,2830.4 L3966.2,2836.1 L3968.4,2841.9 L3970.6,2847.7 L3972.8,2853.5 L3975.0,2859.4 L3977.2,2865.3 L3979.4,2871.3 L3981.6,2877.3 L3983.8,2883.3 L3986.0,2889.4 L3988.2,2895.4 L3990.4,2901.5 L3992.6,2907.6 L3994.8,2913.8 L3997.0,2919.9 L3999.2,2926.0 L4001.4,2932.2 L4003.6,2938.4 L4005.8,2944.5 L4008.0,2950.7 L4010.2,2956.9 L4012.4,2963.0 L4014.6,2969.2 L4016.8,2975.3 L4019.0,2981.4 L4021.2,2987.5 L4023.4,2993.6 L4025.6,2999.7 L4027.8,3005.8 L4030.0,3011.8 L4032.2,3017.8 L4034.4,3023.8 L4036.6,3029.7 L4038.8,3035.7 L4041.0,3041.6 L4043.2,3047.5 L4045.4,3053.3 L4047.6,3059.1 L4049.8,3064.9 L4052.0,3070.7 L4054.2,3076.4 L4056.4,3082.1 L4058.6,3087.8 L4060.8,3093.4 L4063.0,3099.0 L4065.2,3104.6 L4067.4,3110.1 L4069.6,3115.7 L4071.8,3121.1 L4074.0,3126.6 L4076.2,3132.0 L4078.4,3137.4 L4080.6,3142.7 L4082.8,3148.0 L4085.0,3153.2 L4087.2,3158.4 L4089.4,3163.6 L4091.6,3168.7 L4093.8,3173.8 L4096.0,3178.8 L4098.2,3183.8 L4100.4,3188.7 L4102.6,3193.5 L4104.8,3198.4 L4107.0,3203.1 L4109.2,3207.8 L4111.4,3212.4 L4113.6,3217.0 L4115.8,3221.5 L4118.0,3225.9 L4120.2,3230.3 L4122.4,3234.7 L4124.6,3238.9 L4126.8,3243.1 L4129.0,3247.2 L4131.2,3251.3 L4133.4,3255.3 L4135.6,3259.3 L4137.8,3263.2 L4140.0,3267.0 L4142.2,3270.7 L4144.4,3274.4 L4146.6,3278.1 L4148.8,3281.6 L4151.0,3285.1 L4153.2,3288.6 L4155.4,3292.0 L4157.6,3295.3 L4159.8,3298.5 L4162.0,3301.7 L4164.2,3304.9 L4166.4,3308.0 L4168.6,3311.0 L4170.8,3314.0 L4173.0,3316.9 L4175.2,3319.7 L4177.4,3322.5 L4179.6,3325.3 L4181.8,3328.0 L4184.0,3330.6 L4186.2,3333.2 L4188.4,3335.8 L4190.6,3338.3 L4192.8,3340.7 L4195.0,3343.1 L4197.2,3345.5 L4199.4,3347.8 L4201.6,3350.1 L4203.8,3352.3 L4206.0,3354.4 L4208.2,3356.6 L4210.4,3358.6 L4212.6,3360.7 L4214.8,3362.6 L4217.0,3364.6 L4219.2,3366.5 L4221.4,3368.3 L4223.6,3370.1 L4225.8,3371.9 L4228.0,3373.6 L4230.2,3375.3 L4232.4,3376.9 L4234.6,3378.5 L4236.8,3380.1 L4239.0,3381.6 L4241.2,3383.1 L4243.4,3384.6 L4245.6,3386.0 L4247.8,3387.4 L4250.0,3388.8 L4252.2,3390.1 L4254.4,3391.4 L4256.6,3392.7 L4258.8,3394.0 L4261.0,3395.2 L4263.2,3396.4 L4265.4,3397.6 L4267.6,3398.8 L4269.8,3399.9 L4272.0,3401.1 L4274.2,3402.2 L4276.4,3403.3 L4278.6,3404.3 L4280.8,3405.4 L4283.0,3406.4 L4285.2,3407.4 L4287.4,3408.4 L4289.6,3409.4 L4291.8,3410.4 L4294.0,3411.3 L4296.2,3412.2 L4298.4,3413.1 L4300.6,3414.0 L4302.8,3414.8 L4305.0,3415.7 L4307.2,3416.5 L4309.4,3417.3 L4311.6,3418.1 L4313.8,3418.8 L4316.0,3419.5 L4318.2,3420.3 L4320.4,3421.0 L4322.6,3421.6 L4324.8,3422.3 L4327.0,3422.9 L4329.2,3423.5 L4331.4,3424.1 L4333.6,3424.7 L4335.8,3425.3 L4338.0,3425.9 L4340.2,3426.4 L4342.4,3426.9 L4344.6,3427.4 L4346.8,3427.9 L4349.0,3428.4 L4351.2,3428.9 L4353.4,3429.4 L4355.6,3429.8 L4357.8,3430.3 L4360.0,3430.7 L4362.2,3431.1 L4364.4,3431.5 L4366.6,3431.9 L4368.8,3432.3 L4371.0,3432.7 L4373.2,3433.1 L4375.4,3433.5 L4377.6,3433.9 L4379.8,3434.3 L4382.0,3434.6 L4384.2,3435.0 L4386.4,3435.3 L4388.6,3435.7 L4390.8,3436.0 L4393.0,3436.4 L4395.2,3436.7 L4397.4,3437.0 L4399.6,3437.4 L4401.8,3437.7 L4404.0,3438.0 L4406.2,3438.3 L4408.4,3438.6 L4410.6,3438.9 L4412.8,3439.2 L4415.0,3439.5 L4417.2,3439.8 L4419.4,3440.1 L4421.6,3440.4 L4423.8,3440.7 L4426.0,3441.0 L4428.2,3441.3 L4430.4,3441.6 L4432.6,3441.8 L4434.8,3442.1 L4437.0,3442.4" fill="none" stroke="#ee1313" stroke-width="9"  stroke-linejoin="round"/>
</g>
<text transform="translate(465.04,3554.28) scale(1.3490,1)" font-size="74.15" style="font-family:'Liberation Sans',sans-serif;font-weight:bold;font-kerning:none" fill="#000" >0.0</text>
<text transform="translate(903.32,3554.28) scale(1.2540,1)" font-size="74.15" style="font-family:'Liberation Sans',sans-serif;font-weight:bold;font-kerning:none" fill="#000" >0.1</text>
<text transform="translate(1344.53,3554.28) scale(1.3532,1)" font-size="74.15" style="font-family:'Liberation Sans',sans-serif;font-weight:bold;font-kerning:none" fill="#000" >0.2</text>
<text transform="translate(1783.03,3554.17) scale(1.3571,1)" font-size="74.00" style="font-family:'Liberation Sans',sans-serif;font-weight:bold;font-kerning:none" fill="#000" >0.3</text>
<text transform="translate(2222.07,3554.28) scale(1.3383,1)" font-size="74.15" style="font-family:'Liberation Sans',sans-serif;font-weight:bold;font-kerning:none" fill="#000" >0.4</text>
<text transform="translate(449.64,3497.29) scale(1.4107,1)" font-size="72.74" style="font-family:'Liberation Sans',sans-serif;font-weight:bold;font-kerning:none" fill="#000" >0</text>
<text transform="translate(451.83,3182.30) scale(1.3366,1)" font-size="74.90" style="font-family:'Liberation Sans',sans-serif;font-weight:bold;font-kerning:none" fill="#000" >2</text>
<text transform="translate(450.34,2865.20) scale(1.2919,1)" font-size="74.71" style="font-family:'Liberation Sans',sans-serif;font-weight:bold;font-kerning:none" fill="#000" >4</text>
<text transform="translate(450.00,2549.29) scale(1.3825,1)" font-size="73.02" style="font-family:'Liberation Sans',sans-serif;font-weight:bold;font-kerning:none" fill="#000" >6</text>
<text transform="translate(2607.54,3554.28) scale(1.3490,1)" font-size="74.15" style="font-family:'Liberation Sans',sans-serif;font-weight:bold;font-kerning:none" fill="#000" >0.0</text>
<text transform="translate(3045.82,3554.28) scale(1.2540,1)" font-size="74.15" style="font-family:'Liberation Sans',sans-serif;font-weight:bold;font-kerning:none" fill="#000" >0.1</text>
<text transform="translate(3487.03,3554.28) scale(1.3532,1)" font-size="74.15" style="font-family:'Liberation Sans',sans-serif;font-weight:bold;font-kerning:none" fill="#000" >0.2</text>
<text transform="translate(3925.53,3554.17) scale(1.3571,1)" font-size="74.00" style="font-family:'Liberation Sans',sans-serif;font-weight:bold;font-kerning:none" fill="#000" >0.3</text>
<text transform="translate(4364.57,3554.28) scale(1.3383,1)" font-size="74.15" style="font-family:'Liberation Sans',sans-serif;font-weight:bold;font-kerning:none" fill="#000" >0.4</text>
<text transform="translate(2592.64,3497.29) scale(1.4107,1)" font-size="72.74" style="font-family:'Liberation Sans',sans-serif;font-weight:bold;font-kerning:none" fill="#000" >0</text>
<text transform="translate(2594.83,3182.30) scale(1.3366,1)" font-size="74.90" style="font-family:'Liberation Sans',sans-serif;font-weight:bold;font-kerning:none" fill="#000" >2</text>
<text transform="translate(2593.34,2865.20) scale(1.2919,1)" font-size="74.71" style="font-family:'Liberation Sans',sans-serif;font-weight:bold;font-kerning:none" fill="#000" >4</text>
<text transform="translate(2593.00,2549.29) scale(1.3825,1)" font-size="73.02" style="font-family:'Liberation Sans',sans-serif;font-weight:bold;font-kerning:none" fill="#000" >6</text>
<text transform="translate(1278.77,3676.79) scale(1.3713,1)" font-size="73.27" style="font-family:'Liberation Sans',sans-serif;font-weight:bold;font-kerning:none" fill="#000" >t (ms)</text>
<text transform="translate(3421.27,3676.79) scale(1.3713,1)" font-size="73.27" style="font-family:'Liberation Sans',sans-serif;font-weight:bold;font-kerning:none" fill="#000" >t (ms)</text>
<rect x="1843.0" y="2646.1" width="45" height="12.6" fill="#0b0bdc"/>
<rect x="1920.0" y="2646.1" width="45" height="12.6" fill="#0b0bdc"/>
<rect x="1843.0" y="2781.0" width="125.5" height="12.6" fill="#ee1313"/>
<rect x="4003.0" y="2652.4" width="45" height="12.6" fill="#0b0bdc"/>
<rect x="4080.0" y="2652.4" width="45" height="12.6" fill="#0b0bdc"/>
<rect x="4003.0" y="2787.1" width="125.5" height="12.6" fill="#ee1313"/>
<text transform="translate(2016.44,2701.90) scale(0.9652,1)" font-size="124.60" style="font-family:'Liberation Serif',serif;font-weight:bold;font-kerning:none" fill="#000" >Ω</text>
<text transform="translate(2113.87,2731.73) scale(1.0692,1)" font-size="69.06" style="font-family:'Liberation Serif',serif;font-weight:bold;font-kerning:none" fill="#000" >S</text>
<text transform="translate(2013.12,2826.00) scale(0.9616,1)" font-size="125.51" style="font-family:'Liberation Serif',serif;font-weight:bold;font-kerning:none" fill="#000" >Ω</text>
<text transform="translate(2114.21,2854.80) scale(1.0417,1)" font-size="66.89" style="font-family:'Liberation Serif',serif;font-weight:bold;font-kerning:none" fill="#000" >P</text>
<text transform="translate(4166.44,2707.00) scale(0.9640,1)" font-size="124.75" style="font-family:'Liberation Serif',serif;font-weight:bold;font-kerning:none" fill="#000" >Ω</text>
<text transform="translate(4195.18,2632.39) scale(0.9770,1)" font-size="81.56" style="font-family:'Liberation Serif',serif;font-kerning:none" fill="#000" >~</text>
<text transform="translate(4262.85,2736.73) scale(1.0755,1)" font-size="69.06" style="font-family:'Liberation Serif',serif;font-weight:bold;font-kerning:none" fill="#000" >S</text>
<text transform="translate(4163.12,2831.00) scale(0.9558,1)" font-size="126.26" style="font-family:'Liberation Serif',serif;font-weight:bold;font-kerning:none" fill="#000" >Ω</text>
<text transform="translate(4193.84,2755.85) scale(0.9587,1)" font-size="80.97" style="font-family:'Liberation Serif',serif;font-kerning:none" fill="#000" >~</text>
<text transform="translate(4264.21,2859.80) scale(1.0276,1)" font-size="67.81" style="font-family:'Liberation Serif',serif;font-weight:bold;font-kerning:none" fill="#000" >P</text>
<text transform="translate(270.77,2583.11) scale(1.0390,1)" font-size="172.66" style="font-family:'Liberation Sans',sans-serif;font-weight:bold;font-kerning:none" fill="#000" >b</text>
<text transform="translate(2390.95,2586.90) scale(1.0338,1)" font-size="174.50" style="font-family:'Liberation Sans',sans-serif;font-weight:bold;font-kerning:none" fill="#000" >c</text>
<text transform="translate(391.00,3401.50) rotate(-90) scale(1.1812,1)" font-size="90.00" style="font-family:'Liberation Serif',serif;font-kerning:none" fill="#14141c" stroke="#14141c" stroke-width="1.3">Ω</text>
<text transform="translate(413.00,3333.00) rotate(-90) scale(0.9300,1)" x="6.9 37.6 46.7" y="0" font-size="58.00" style="font-family:'Liberation Serif',serif;font-kerning:none" fill="#14141c" stroke="#14141c" stroke-width="1.3">S,P</text>
<text transform="translate(391.00,3247.70) rotate(-90) scale(1.0500,1)" x="5.6 38.8 68.4 125.4 118.1 170.1 156.4 206.1 278.5 277.4 310.5 391.9 461.5 504.7" y="0" font-size="90.00" style="font-family:'Liberation Serif',serif;font-kerning:none" fill="#14141c" stroke="#14141c" stroke-width="1.3">(t) / 2π (MHz)</text>
<text transform="translate(2528.00,3396.50) rotate(-90) scale(1.1812,1)" font-size="90.00" style="font-family:'Liberation Serif',serif;font-kerning:none" fill="#14141c" stroke="#14141c" stroke-width="1.3">Ω</text>
<text transform="translate(2550.00,3328.00) rotate(-90) scale(0.9300,1)" x="6.9 37.6 46.7" y="0" font-size="58.00" style="font-family:'Liberation Serif',serif;font-kerning:none" fill="#14141c" stroke="#14141c" stroke-width="1.3">S,P</text>
<text transform="translate(2528.00,3242.70) rotate(-90) scale(1.0500,1)" x="5.6 38.8 68.4 125.4 118.1 170.1 156.4 206.1 278.5 277.4 310.5 391.9 461.5 504.7" y="0" font-size="90.00" style="font-family:'Liberation Serif',serif;font-kerning:none" fill="#14141c" stroke="#14141c" stroke-width="1.3">(t) / 2π (MHz)</text>
<text transform="translate(2466.03,3375.91) rotate(-90) scale(1.4617,1)" font-size="47.03" style="font-family:'Liberation Serif',serif;font-kerning:none" fill="#14141c" >~</text>
</svg>
</body></html>
